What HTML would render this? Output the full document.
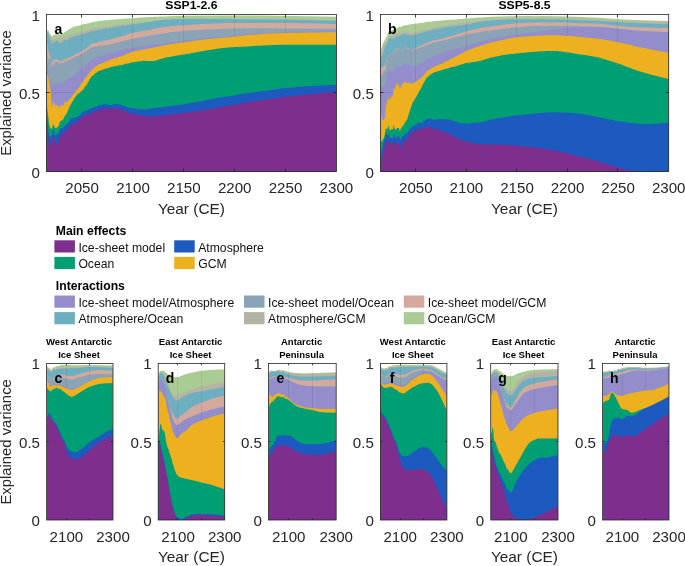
<!DOCTYPE html>
<html><head><meta charset="utf-8"><title>Explained variance</title>
<style>
html,body{margin:0;padding:0;background:#fff;}
body{width:685px;height:566px;overflow:hidden;}
svg{display:block;will-change:transform;}
text{font-family:"Liberation Sans",Arial,Helvetica,sans-serif;fill:#262626;}
.tk{font-size:15.1px;}
.al{font-size:15.4px;}
.yl{font-size:14.85px;}
.tt{font-size:11.5px;font-weight:bold;fill:#000;}
.st{font-size:9.5px;font-weight:bold;fill:#000;}
.pl{font-size:14px;font-weight:bold;fill:#000;}
.lg{font-size:12.2px;fill:#111;}
.lh{font-size:12.2px;font-weight:bold;fill:#000;}
</style></head><body>
<svg width="685" height="566" viewBox="0 0 685 566">
<rect width="685" height="566" fill="#fff"/>
<rect x="46.5" y="14.5" width="289.90" height="157.00" fill="#fff"/>
<polygon fill="#ABCB94" points="46.9,171.5 46.9,30.2 47.9,30.0 48.9,30.9 49.9,34.1 50.9,34.7 51.9,36.4 52.9,36.1 53.9,34.3 54.9,34.7 55.9,34.1 57.9,33.7 58.9,34.3 59.9,33.9 60.9,34.3 61.9,33.7 62.9,33.4 64.9,32.0 65.9,31.6 66.9,30.9 67.9,29.9 69.9,28.7 70.9,28.4 71.9,27.8 72.9,27.3 73.9,26.4 74.9,26.6 75.9,26.4 76.9,25.7 77.9,26.0 78.9,25.8 79.9,25.3 80.9,25.2 81.9,24.3 83.9,24.3 85.9,23.8 86.9,23.4 88.9,23.2 90.9,22.4 91.9,22.2 92.9,22.2 93.9,22.1 94.9,21.7 95.9,21.8 98.9,21.0 100.9,21.0 101.9,20.6 103.9,20.4 104.9,20.4 105.9,20.1 107.9,20.3 108.9,20.2 109.9,19.7 111.9,19.8 117.9,19.3 118.9,19.0 120.0,19.3 121.0,18.9 123.0,18.7 124.0,18.8 127.0,18.5 129.0,18.5 134.0,18.0 137.0,17.9 138.0,17.7 141.0,17.6 142.0,17.4 146.0,17.2 147.0,17.1 149.0,17.1 150.0,17.0 152.0,17.0 155.0,16.7 158.0,16.7 160.0,16.6 164.0,16.5 165.0,16.4 174.0,16.1 175.0,16.0 183.0,15.9 186.0,15.7 187.0,15.8 230.0,15.4 232.0,15.5 236.0,15.4 257.0,15.5 292.1,15.9 336.1,16.8 336.1,171.5"/>
<polygon fill="#B3B3A6" points="46.9,171.5 46.9,31.6 48.9,33.0 49.9,36.7 50.9,36.2 51.9,40.6 52.9,39.3 54.9,39.2 55.9,38.9 56.9,38.5 57.9,37.5 58.9,38.4 59.9,37.2 60.9,38.4 61.9,36.9 62.9,37.7 63.9,36.3 64.9,35.5 65.9,37.4 66.9,36.7 67.9,35.0 68.9,35.8 69.9,34.8 70.9,35.4 71.9,34.9 72.9,34.2 73.9,33.0 74.9,33.8 76.9,32.8 77.9,33.0 78.9,32.9 79.9,32.0 80.9,32.2 81.9,31.4 82.9,30.8 83.9,31.1 84.9,30.8 85.9,30.7 86.9,30.1 88.9,29.9 89.9,29.1 90.9,29.0 91.9,28.5 92.9,28.8 94.9,28.0 95.9,28.3 96.9,27.8 97.9,27.7 98.9,27.2 99.9,27.5 100.9,27.4 102.9,26.8 104.9,26.7 105.9,26.1 106.9,26.6 108.9,26.6 109.9,25.8 110.9,25.9 111.9,25.7 112.9,25.9 113.9,25.3 114.9,25.3 115.9,25.1 116.9,25.2 118.9,24.5 120.0,24.9 121.0,24.4 123.0,24.0 124.0,24.1 126.0,23.9 127.0,23.5 129.0,23.6 130.0,23.2 131.0,23.4 133.0,22.9 137.0,22.9 138.0,22.6 141.0,22.5 142.0,22.2 146.0,21.9 147.0,21.7 149.0,21.8 150.0,21.4 154.0,20.9 155.0,20.5 158.0,20.3 160.0,19.9 161.0,19.8 162.0,19.5 163.0,19.7 165.0,19.4 167.0,19.3 168.0,19.4 170.0,19.1 174.0,19.0 175.0,18.8 177.0,18.7 178.0,18.9 181.0,18.7 184.0,18.8 186.0,18.6 187.0,18.7 188.0,18.7 191.0,18.8 192.0,18.6 194.0,18.8 198.0,18.7 199.0,18.8 206.0,18.6 207.0,18.7 220.0,18.7 223.0,18.9 225.0,18.8 227.0,18.9 230.0,18.8 232.0,19.1 236.0,19.0 240.0,19.2 246.0,19.1 248.0,19.3 250.0,19.2 266.1,19.4 269.1,19.2 272.1,19.4 277.1,19.3 285.1,19.5 292.1,19.4 294.1,19.6 296.1,19.5 297.1,19.7 298.1,19.6 299.1,19.7 304.1,19.7 305.1,19.8 307.1,19.7 309.1,19.8 317.1,19.9 318.1,20.1 320.1,20.0 322.1,20.2 323.1,20.1 331.1,20.4 336.1,20.4 336.1,171.5"/>
<polygon fill="#6DAEC0" points="46.9,171.5 46.9,33.8 47.9,32.3 49.9,39.6 50.9,40.3 51.9,43.4 52.9,43.3 53.9,41.5 54.9,42.3 56.9,40.3 57.9,41.1 58.9,42.7 59.9,42.0 60.9,43.3 61.9,41.9 62.9,42.1 63.9,40.3 64.9,39.5 65.9,41.1 66.9,40.6 67.9,38.9 68.9,39.4 69.9,37.9 70.9,38.2 71.9,37.4 72.9,37.1 73.9,36.3 74.9,36.8 76.9,35.4 77.9,35.5 78.9,35.8 79.9,34.9 80.9,35.0 81.9,34.3 82.9,33.8 83.9,33.8 84.9,33.5 85.9,33.5 86.9,32.7 87.9,32.4 88.9,32.4 89.9,31.6 90.9,31.3 91.9,31.1 92.9,31.3 94.9,30.6 95.9,30.7 96.9,30.5 97.9,30.2 98.9,29.6 99.9,29.8 102.9,28.9 104.9,28.6 105.9,28.0 106.9,28.6 108.9,28.4 109.9,27.7 110.9,27.7 111.9,27.5 112.9,27.6 113.9,27.1 114.9,27.2 115.9,26.7 116.9,26.8 118.9,26.2 120.0,26.4 121.0,26.0 122.0,25.9 123.0,25.6 124.0,25.8 126.0,25.6 127.0,24.9 128.0,25.2 129.0,25.1 130.0,24.7 131.0,24.7 133.0,24.4 134.0,24.1 136.0,24.1 137.0,24.0 138.0,23.6 141.0,23.4 143.0,22.9 144.0,22.8 148.0,22.2 149.0,22.3 150.0,21.9 152.0,21.7 155.0,20.9 158.0,20.7 160.0,20.3 161.0,20.3 162.0,20.0 163.0,20.1 166.0,19.8 169.0,19.7 171.0,19.5 172.0,19.6 174.0,19.5 177.0,19.2 178.0,19.3 182.0,19.1 184.0,19.3 185.0,19.1 186.0,19.0 190.0,19.1 192.0,19.0 194.0,19.1 198.0,19.0 199.0,19.1 201.0,19.0 205.0,19.0 206.0,18.9 208.0,19.1 213.0,19.0 219.0,19.1 220.0,19.0 222.0,19.2 225.0,19.1 229.0,19.2 230.0,19.1 232.0,19.4 236.0,19.3 239.0,19.3 240.0,19.5 246.0,19.4 248.0,19.6 251.0,19.5 254.0,19.6 256.0,19.5 260.0,19.6 266.1,19.7 267.1,19.6 268.1,19.7 269.1,19.6 273.1,19.7 277.1,19.6 278.1,19.7 282.1,19.6 290.1,19.8 292.1,19.7 294.1,19.9 296.1,19.8 297.1,20.0 298.1,19.8 305.1,20.1 307.1,20.0 309.1,20.2 327.1,20.5 332.1,20.8 336.1,20.8 336.1,171.5"/>
<polygon fill="#D3A99D" points="46.9,171.5 46.9,40.5 47.9,48.2 49.9,56.3 50.9,57.1 51.9,62.8 52.9,61.7 53.9,58.8 54.9,59.8 55.9,58.8 56.9,59.3 57.9,59.6 58.9,61.6 59.9,60.5 60.9,60.8 61.9,60.2 62.9,61.4 63.9,59.6 64.9,58.8 65.9,59.4 66.9,58.9 67.9,57.1 68.9,58.1 69.9,56.9 70.9,57.3 71.9,56.3 74.9,54.5 76.9,53.2 77.9,53.5 78.9,52.9 79.9,51.6 80.9,51.9 81.9,50.8 83.9,49.8 84.9,49.0 86.9,47.8 87.9,46.9 88.9,46.2 89.9,45.0 90.9,44.5 91.9,43.8 92.9,43.4 93.9,43.4 94.9,43.1 96.9,42.7 97.9,42.2 98.9,41.6 99.9,41.8 100.9,41.7 101.9,41.1 102.9,41.2 103.9,40.8 104.9,40.7 105.9,40.0 106.9,40.5 107.9,40.1 108.9,40.0 109.9,39.3 110.9,39.2 111.9,38.7 112.9,38.8 113.9,38.1 114.9,38.2 115.9,37.7 116.9,37.6 118.9,36.7 120.0,36.7 122.0,36.0 124.0,35.7 125.0,35.2 126.0,35.0 127.0,34.3 129.0,34.0 130.0,33.3 131.0,33.4 133.0,32.8 134.0,32.4 135.0,32.4 136.0,32.1 137.0,32.2 138.0,31.7 139.0,31.7 143.0,30.8 144.0,30.8 148.0,29.9 149.0,29.9 151.0,29.4 152.0,29.3 155.0,28.6 157.0,28.3 159.0,27.8 161.0,27.6 162.0,27.3 163.0,27.3 165.0,26.9 169.0,26.5 170.0,26.2 173.0,26.0 174.0,26.1 175.0,25.8 178.0,25.7 181.0,25.3 184.0,25.2 186.0,24.9 191.0,24.8 192.0,24.5 196.0,24.4 198.0,24.2 199.0,24.3 201.0,24.0 206.0,23.7 210.0,23.7 212.0,23.6 213.0,23.5 214.0,23.5 219.0,23.4 220.0,23.2 222.0,23.3 224.0,23.2 225.0,23.1 227.0,23.1 230.0,22.9 232.0,23.1 236.0,22.9 239.0,22.9 240.0,23.1 246.0,23.0 248.0,23.1 255.0,22.9 260.0,23.1 261.0,23.0 268.1,23.1 269.1,23.0 273.1,23.1 277.1,22.9 278.1,23.1 282.1,23.0 290.1,23.1 292.1,22.9 294.1,23.1 296.1,23.0 297.1,23.2 298.1,23.0 299.1,23.2 304.1,23.2 305.1,23.3 307.1,23.2 318.1,23.6 327.1,23.8 332.1,24.1 336.1,24.1 336.1,171.5"/>
<polygon fill="#8BA3B6" points="46.9,171.5 46.9,48.3 47.9,60.2 48.9,58.8 49.9,58.2 50.9,57.1 51.9,66.4 52.9,66.5 53.9,62.8 54.9,63.9 55.9,61.4 56.9,61.8 57.9,61.7 58.9,63.8 59.9,62.6 60.9,63.2 61.9,62.6 62.9,63.6 64.9,61.4 65.9,61.2 66.9,61.4 67.9,60.0 68.9,60.1 69.9,59.4 70.9,59.6 71.9,58.6 72.9,57.9 74.9,56.9 75.9,56.2 76.9,55.8 77.9,55.9 78.9,55.5 79.9,54.0 80.9,54.4 81.9,53.7 83.9,53.1 84.9,51.7 86.9,51.0 87.9,49.9 89.9,48.3 90.9,47.9 91.9,47.2 92.9,47.2 93.9,47.0 95.9,46.3 96.9,46.5 98.9,45.6 99.9,45.9 100.9,46.0 101.9,45.6 102.9,45.7 103.9,45.5 104.9,45.5 105.9,44.8 106.9,45.6 107.9,45.0 108.9,45.0 109.9,44.3 110.9,44.2 111.9,43.8 112.9,43.9 113.9,43.2 114.9,43.3 117.9,42.3 118.9,41.9 120.0,41.8 122.0,41.3 124.0,41.0 125.0,40.7 126.0,40.5 127.0,40.0 129.0,39.9 130.0,39.2 131.0,39.3 132.0,38.9 133.0,38.8 134.0,38.4 135.0,38.4 136.0,38.1 137.0,38.1 138.0,37.8 139.0,37.7 141.0,37.2 142.0,36.9 146.0,36.4 148.0,35.8 149.0,35.9 151.0,35.3 152.0,35.3 156.0,34.4 157.0,34.4 158.0,34.0 160.0,33.9 162.0,33.5 163.0,33.5 165.0,33.0 166.0,33.0 171.0,32.3 172.0,32.1 174.0,32.0 175.0,31.7 179.0,31.4 182.0,30.9 184.0,31.0 185.0,30.7 192.0,30.3 196.0,30.1 198.0,29.9 199.0,30.0 201.0,29.8 204.0,29.7 206.0,29.5 212.0,29.3 220.0,28.9 224.0,28.8 225.0,28.7 226.0,28.8 230.0,28.5 232.0,28.6 239.0,28.3 240.0,28.4 243.0,28.3 248.0,28.4 249.0,28.3 255.0,28.2 260.0,28.4 267.1,28.3 273.1,28.5 277.1,28.3 278.1,28.5 284.1,28.4 287.1,28.5 292.1,28.4 294.1,28.5 296.1,28.4 297.1,28.6 298.1,28.4 299.1,28.5 304.1,28.5 305.1,28.6 307.1,28.5 309.1,28.6 310.1,28.5 314.1,28.7 315.1,28.6 320.1,28.7 327.1,28.6 332.1,28.8 336.1,28.7 336.1,171.5"/>
<polygon fill="#938DCB" points="46.9,171.5 46.9,65.1 47.9,69.3 48.9,75.0 49.9,81.7 50.9,81.0 51.9,85.1 53.9,82.6 54.9,83.7 55.9,82.8 56.9,82.3 57.9,82.3 58.9,84.0 59.9,82.8 60.9,83.1 61.9,82.5 62.9,84.2 64.9,80.9 66.9,81.2 67.9,79.4 68.9,78.8 69.9,77.7 70.9,77.7 71.9,76.8 72.9,76.1 73.9,75.0 74.9,74.3 75.9,73.2 76.9,72.3 77.9,72.2 78.9,71.3 79.9,69.3 81.9,67.8 82.9,67.4 83.9,66.7 84.9,65.3 85.9,64.4 86.9,64.2 89.9,60.7 90.9,60.2 91.9,59.2 93.9,58.8 94.9,57.6 95.9,57.5 98.9,56.0 100.9,55.9 101.9,55.3 102.9,55.2 103.9,54.8 104.9,54.7 105.9,53.7 106.9,54.4 107.9,53.7 108.9,53.6 109.9,53.0 110.9,53.0 111.9,52.4 112.9,52.3 113.9,51.9 115.9,51.7 118.9,50.6 120.0,50.6 122.0,50.1 124.0,49.9 125.0,49.4 126.0,49.3 127.0,48.7 129.0,48.7 130.0,48.1 131.0,48.1 132.0,47.7 133.0,47.7 134.0,47.4 135.0,47.4 136.0,47.1 137.0,47.3 138.0,47.0 139.0,47.1 140.0,46.8 143.0,46.2 146.0,45.9 147.0,45.6 149.0,45.5 151.0,45.0 152.0,45.1 156.0,44.3 157.0,44.3 158.0,44.0 163.0,43.5 165.0,43.0 166.0,43.0 167.0,42.8 171.0,42.4 172.0,42.2 174.0,42.1 175.0,41.8 177.0,41.6 178.0,41.7 180.0,41.2 183.0,41.0 184.0,41.1 185.0,40.7 187.0,40.5 188.0,40.3 190.0,40.2 198.0,39.1 199.0,39.1 201.0,38.8 204.0,38.5 206.0,38.2 217.0,37.3 224.0,36.9 225.0,36.7 226.0,36.8 230.0,36.3 232.0,36.2 237.0,35.5 239.0,35.1 243.0,34.6 248.0,34.4 249.0,34.2 256.0,33.6 264.1,33.2 269.1,32.8 271.1,32.9 284.1,32.3 287.1,32.3 292.1,32.0 293.1,32.1 296.1,32.0 297.1,32.1 298.1,31.8 299.1,31.9 303.1,31.9 304.1,31.7 305.1,31.9 306.1,31.7 308.1,31.6 309.1,31.7 310.1,31.6 312.1,31.7 315.1,31.5 331.1,31.3 332.1,31.4 333.1,31.3 336.1,31.3 336.1,171.5"/>
<polygon fill="#EDB120" points="46.9,171.5 46.9,75.3 47.9,74.9 49.9,86.0 50.9,94.0 51.9,108.5 52.9,103.4 53.9,101.5 54.9,105.7 55.9,104.9 56.9,105.3 57.9,106.1 58.9,108.8 59.9,104.8 60.9,106.2 61.9,105.0 62.9,106.0 63.9,103.4 64.9,102.1 65.9,101.9 66.9,102.3 69.9,98.5 70.9,98.0 71.9,96.4 72.9,95.2 73.9,93.7 74.9,92.7 76.9,89.9 78.9,87.7 79.9,85.7 80.9,84.1 81.9,82.7 82.9,81.7 83.9,80.4 84.9,78.4 86.9,76.5 87.9,74.6 88.9,73.4 89.9,71.7 90.9,71.1 91.9,69.4 92.9,69.1 93.9,68.3 94.9,66.8 95.9,66.5 98.9,64.3 99.9,64.0 100.9,64.0 102.9,62.8 104.9,62.2 105.9,61.0 106.9,61.6 107.9,60.7 108.9,60.6 109.9,59.8 111.9,59.2 112.9,59.1 114.9,58.3 116.9,58.0 117.9,57.3 124.0,55.5 125.0,54.6 126.0,54.6 127.0,53.8 128.0,53.7 129.0,53.4 130.0,52.6 133.0,51.7 134.0,51.3 135.0,51.3 136.0,51.0 137.0,51.0 138.0,50.6 139.0,50.6 140.0,50.2 141.0,50.2 143.0,49.5 144.0,49.5 148.0,48.5 149.0,48.5 151.0,47.9 152.0,47.9 155.0,47.3 156.0,46.9 157.0,46.9 158.0,46.5 160.0,46.3 162.0,45.8 163.0,45.7 167.0,44.8 168.0,44.8 169.0,44.6 171.0,44.3 172.0,44.0 174.0,43.8 176.0,43.3 179.0,43.1 180.0,42.7 183.0,42.4 184.0,42.5 185.0,42.0 187.0,41.9 188.0,41.7 191.0,41.4 192.0,41.1 196.0,40.6 198.0,40.2 199.0,40.2 204.0,39.5 205.0,39.5 206.0,39.2 214.0,38.5 215.0,38.3 216.0,38.4 217.0,38.2 223.0,37.7 225.0,37.5 226.0,37.5 230.0,37.0 232.0,36.9 233.0,36.7 240.0,35.9 241.0,35.7 244.0,35.5 247.0,35.2 248.0,35.2 256.0,34.4 269.1,33.6 284.1,33.0 287.1,33.1 292.1,32.8 293.1,32.9 296.1,32.7 297.1,32.8 298.1,32.7 300.1,32.8 301.1,32.7 304.1,32.6 305.1,32.7 308.1,32.5 309.1,32.6 310.1,32.5 314.1,32.6 315.1,32.4 318.1,32.5 330.1,32.3 332.1,32.4 333.1,32.3 336.1,32.3 336.1,171.5"/>
<polygon fill="#009E73" points="46.9,171.5 46.9,106.1 47.9,113.6 48.9,123.1 49.9,127.4 51.9,129.3 52.9,124.5 53.9,125.3 54.9,128.6 55.9,127.3 56.9,128.2 57.9,126.4 58.9,126.1 59.9,120.8 60.9,121.8 61.9,119.4 62.9,120.4 63.9,117.5 66.9,113.3 67.9,110.4 68.9,108.8 69.9,105.7 70.9,104.7 71.9,102.4 74.9,97.5 75.9,96.4 76.9,94.8 77.9,93.7 78.9,93.4 79.9,92.6 81.9,90.8 83.9,88.7 84.9,86.6 85.9,86.1 86.9,84.8 87.9,82.2 88.9,81.0 89.9,78.9 90.9,77.8 91.9,76.1 92.9,75.7 93.9,74.7 94.9,73.4 95.9,73.0 96.9,72.5 97.9,71.3 98.9,71.1 99.9,70.5 100.9,70.5 103.9,69.3 104.9,69.1 105.9,68.2 106.9,68.5 107.9,68.1 108.9,67.9 109.9,67.2 113.9,66.5 114.9,66.2 116.9,66.1 118.9,65.3 120.0,65.3 122.0,64.9 124.0,64.6 125.0,63.8 126.0,64.0 127.0,63.4 129.0,63.4 130.0,62.7 132.0,62.4 134.0,61.9 135.0,62.0 136.0,61.7 137.0,61.8 138.0,61.4 141.0,61.2 143.0,60.8 146.0,61.0 148.0,60.9 151.0,60.9 153.0,61.0 154.0,60.9 157.0,60.3 158.0,59.8 161.0,59.0 162.0,58.6 163.0,58.4 164.0,57.9 167.0,57.2 168.0,57.2 169.0,56.9 171.0,56.7 177.0,55.5 178.0,55.5 182.0,54.7 184.0,54.6 185.0,54.2 187.0,54.0 188.0,53.7 191.0,53.3 192.0,53.0 194.0,52.7 195.0,52.4 199.0,51.8 204.0,50.9 205.0,50.8 206.0,50.5 209.0,50.1 211.0,49.7 212.0,49.7 217.0,48.8 225.0,47.7 226.0,47.8 230.0,47.3 232.0,47.3 235.0,46.9 248.0,46.4 256.0,45.8 259.0,45.7 263.0,45.4 280.1,44.8 284.1,44.7 286.1,44.8 292.1,44.7 294.1,44.8 296.1,44.7 297.1,44.8 298.1,44.7 303.1,44.8 304.1,44.7 305.1,44.8 308.1,44.7 309.1,44.8 310.1,44.7 314.1,44.8 315.1,44.7 316.1,44.8 325.1,44.7 336.1,44.8 336.1,171.5"/>
<polygon fill="#1C5AC0" points="46.9,171.5 46.9,113.7 48.9,136.1 49.9,136.6 50.9,136.1 51.9,137.9 52.9,129.3 53.9,131.7 54.9,136.2 55.9,134.5 56.9,134.4 57.9,133.3 58.9,132.8 59.9,128.0 60.9,128.3 61.9,127.4 62.9,128.9 63.9,126.1 64.9,125.4 65.9,125.2 66.9,124.4 67.9,122.5 68.9,122.5 69.9,119.5 70.9,119.6 71.9,118.3 73.9,118.3 74.9,117.6 76.9,117.3 77.9,116.5 78.9,116.0 80.9,114.1 81.9,112.8 82.9,112.1 83.9,111.7 84.9,110.7 85.9,111.0 86.9,110.8 87.9,109.6 88.9,109.2 89.9,108.4 90.9,108.3 91.9,107.7 92.9,108.2 93.9,107.6 94.9,106.8 96.9,106.4 97.9,105.5 98.9,105.5 99.9,105.0 100.9,105.2 102.9,104.2 104.9,104.2 105.9,103.9 106.9,104.6 107.9,104.7 108.9,105.1 110.9,104.9 111.9,104.9 114.9,104.0 117.9,104.1 118.9,104.2 121.0,104.7 124.0,106.2 125.0,106.1 126.0,106.8 127.0,106.9 128.0,107.5 129.0,107.7 130.0,107.4 131.0,107.9 133.0,108.3 134.0,108.3 135.0,108.8 136.0,108.7 137.0,109.1 138.0,109.0 141.0,109.4 143.0,109.3 144.0,109.5 145.0,109.4 146.0,109.5 151.0,108.5 155.0,108.1 158.0,107.6 161.0,107.5 162.0,107.2 163.0,107.2 166.0,106.8 167.0,106.6 171.0,106.2 172.0,106.0 173.0,105.9 177.0,105.2 178.0,105.3 182.0,104.5 184.0,104.4 186.0,103.8 187.0,103.8 189.0,103.4 191.0,103.1 193.0,102.6 194.0,102.5 195.0,102.2 196.0,102.1 198.0,101.7 199.0,101.7 201.0,101.2 205.0,100.5 206.0,100.2 214.0,98.8 215.0,98.5 224.0,97.1 225.0,96.8 226.0,96.8 230.0,96.1 232.0,95.9 244.0,93.6 256.0,91.9 262.0,91.2 277.1,89.1 284.1,88.2 288.1,87.9 292.1,87.4 295.1,87.3 296.1,87.1 297.1,87.1 305.1,86.5 308.1,86.2 312.1,86.1 315.1,85.8 318.1,85.8 326.1,85.3 336.1,85.0 336.1,171.5"/>
<polygon fill="#7E2F8E" points="46.9,171.5 46.9,121.8 47.9,131.0 48.9,143.0 49.9,144.8 50.9,146.0 51.9,144.7 52.9,135.3 53.9,137.3 55.9,143.6 56.9,143.7 57.9,142.5 58.9,140.8 59.9,135.6 61.9,134.0 62.9,134.5 63.9,132.2 64.9,131.8 65.9,130.2 66.9,130.0 67.9,128.8 68.9,128.0 69.9,125.3 70.9,125.4 71.9,124.2 72.9,123.6 73.9,123.6 74.9,123.4 75.9,122.2 76.9,122.5 77.9,121.0 78.9,120.4 82.9,116.2 83.9,116.0 84.9,115.6 86.9,115.0 87.9,114.6 88.9,113.9 89.9,113.4 90.9,113.1 91.9,112.4 92.9,112.2 93.9,111.7 94.9,110.9 96.9,110.6 97.9,109.4 98.9,109.7 99.9,109.1 100.9,109.4 102.9,108.8 103.9,108.3 104.9,108.6 105.9,107.7 106.9,108.4 107.9,108.5 108.9,108.9 109.9,108.8 111.9,108.9 113.9,108.4 115.9,108.3 118.9,108.5 121.0,109.1 122.0,109.5 123.0,110.2 124.0,110.8 125.0,111.0 126.0,111.8 127.0,112.0 129.0,113.0 130.0,112.9 131.0,113.4 134.0,114.0 135.0,114.5 136.0,114.5 137.0,115.0 138.0,115.0 141.0,115.8 145.0,116.2 146.0,116.4 147.0,116.4 154.0,116.7 156.0,116.4 159.0,116.1 162.0,115.6 168.0,114.9 169.0,114.6 171.0,114.5 172.0,114.3 174.0,114.2 182.0,113.0 183.0,113.1 186.0,112.5 187.0,112.5 188.0,112.3 191.0,111.9 193.0,111.6 196.0,111.3 198.0,110.9 210.0,109.1 215.0,108.1 218.0,107.7 220.0,107.2 223.0,106.8 225.0,106.3 226.0,106.3 229.0,105.7 230.0,105.4 232.0,105.2 241.0,103.5 252.0,101.6 262.0,100.3 264.1,99.9 266.1,99.7 277.1,97.9 278.1,97.9 280.1,97.5 288.1,96.6 292.1,96.0 293.1,96.0 296.1,95.7 303.1,95.1 307.1,94.6 309.1,94.5 311.1,94.2 312.1,94.2 315.1,93.8 318.1,93.6 320.1,93.3 336.1,91.7 336.1,171.5"/>
<clipPath id="cpa"><polygon points="46.5,14.5 46.9,75.3 47.9,74.9 49.9,86.0 50.9,94.0 51.9,108.5 52.9,103.4 53.9,101.5 54.9,105.7 55.9,104.9 56.9,105.3 57.9,106.1 58.9,108.8 59.9,104.8 60.9,106.2 61.9,105.0 62.9,106.0 63.9,103.4 64.9,102.1 65.9,101.9 66.9,102.3 69.9,98.5 70.9,98.0 71.9,96.4 72.9,95.2 73.9,93.7 74.9,92.7 76.9,89.9 78.9,87.7 79.9,85.7 80.9,84.1 81.9,82.7 82.9,81.7 83.9,80.4 84.9,78.4 86.9,76.5 87.9,74.6 88.9,73.4 89.9,71.7 90.9,71.1 91.9,69.4 92.9,69.1 93.9,68.3 94.9,66.8 95.9,66.5 98.9,64.3 99.9,64.0 100.9,64.0 102.9,62.8 104.9,62.2 105.9,61.0 106.9,61.6 107.9,60.7 108.9,60.6 109.9,59.8 111.9,59.2 112.9,59.1 114.9,58.3 116.9,58.0 117.9,57.3 124.0,55.5 125.0,54.6 126.0,54.6 127.0,53.8 128.0,53.7 129.0,53.4 130.0,52.6 133.0,51.7 134.0,51.3 135.0,51.3 136.0,51.0 137.0,51.0 138.0,50.6 139.0,50.6 140.0,50.2 141.0,50.2 143.0,49.5 144.0,49.5 148.0,48.5 149.0,48.5 151.0,47.9 152.0,47.9 155.0,47.3 156.0,46.9 157.0,46.9 158.0,46.5 160.0,46.3 162.0,45.8 163.0,45.7 167.0,44.8 168.0,44.8 169.0,44.6 171.0,44.3 172.0,44.0 174.0,43.8 176.0,43.3 179.0,43.1 180.0,42.7 183.0,42.4 184.0,42.5 185.0,42.0 187.0,41.9 188.0,41.7 191.0,41.4 192.0,41.1 196.0,40.6 198.0,40.2 199.0,40.2 204.0,39.5 205.0,39.5 206.0,39.2 214.0,38.5 215.0,38.3 216.0,38.4 217.0,38.2 223.0,37.7 225.0,37.5 226.0,37.5 230.0,37.0 232.0,36.9 233.0,36.7 240.0,35.9 241.0,35.7 244.0,35.5 247.0,35.2 248.0,35.2 256.0,34.4 269.1,33.6 284.1,33.0 287.1,33.1 292.1,32.8 293.1,32.9 296.1,32.7 297.1,32.8 298.1,32.7 300.1,32.8 301.1,32.7 304.1,32.6 305.1,32.7 308.1,32.5 309.1,32.6 310.1,32.5 314.1,32.6 315.1,32.4 318.1,32.5 330.1,32.3 332.1,32.4 333.1,32.3 336.1,32.3 336.4,14.5"/></clipPath>
<g clip-path="url(#cpa)" stroke="#000" stroke-opacity="0.065" stroke-width="1"><line x1="81.5" y1="14.5" x2="81.5" y2="171.5"/><line x1="132.5" y1="14.5" x2="132.5" y2="171.5"/><line x1="183.5" y1="14.5" x2="183.5" y2="171.5"/><line x1="234.5" y1="14.5" x2="234.5" y2="171.5"/><line x1="285.5" y1="14.5" x2="285.5" y2="171.5"/><line x1="46.5" y1="92.5" x2="336.4" y2="92.5"/></g>
<g stroke="#262626" stroke-width="1" stroke-opacity="0.9"><line x1="81.5" y1="171.5" x2="81.5" y2="168.5"/><line x1="81.5" y1="14.5" x2="81.5" y2="17.5"/><line x1="132.5" y1="171.5" x2="132.5" y2="168.5"/><line x1="132.5" y1="14.5" x2="132.5" y2="17.5"/><line x1="183.5" y1="171.5" x2="183.5" y2="168.5"/><line x1="183.5" y1="14.5" x2="183.5" y2="17.5"/><line x1="234.5" y1="171.5" x2="234.5" y2="168.5"/><line x1="234.5" y1="14.5" x2="234.5" y2="17.5"/><line x1="285.5" y1="171.5" x2="285.5" y2="168.5"/><line x1="285.5" y1="14.5" x2="285.5" y2="17.5"/><line x1="46.5" y1="92.5" x2="49.5" y2="92.5"/><line x1="336.4" y1="92.5" x2="333.4" y2="92.5"/></g>
<rect x="46.5" y="14.5" width="289.90" height="157.00" fill="none" stroke="#262626" stroke-width="0.8"/>
<text class="tk" x="82.1" y="193.0" text-anchor="middle">2050</text>
<text class="tk" x="133.0" y="193.0" text-anchor="middle">2100</text>
<text class="tk" x="183.8" y="193.0" text-anchor="middle">2150</text>
<text class="tk" x="234.7" y="193.0" text-anchor="middle">2200</text>
<text class="tk" x="285.5" y="193.0" text-anchor="middle">2250</text>
<text class="tk" x="336.4" y="193.0" text-anchor="middle">2300</text>
<text class="tk" x="39.9" y="177.5" text-anchor="end">0</text>
<text class="tk" x="39.9" y="99.0" text-anchor="end">0.5</text>
<text class="tk" x="39.9" y="20.5" text-anchor="end">1</text>
<rect x="380.4" y="14.5" width="288.30" height="157.00" fill="#fff"/>
<polygon fill="#ABCB94" points="380.8,171.5 380.8,50.2 382.8,43.7 383.8,41.7 384.8,40.1 385.8,37.9 386.8,36.4 387.8,33.2 388.8,30.7 389.8,31.9 390.8,30.6 391.8,30.6 394.8,29.8 395.8,29.4 396.8,27.7 397.8,28.5 398.8,26.5 399.8,27.1 400.8,27.2 401.8,26.3 402.8,25.8 403.8,25.8 404.8,25.3 405.8,25.6 406.8,25.0 407.8,25.1 408.8,24.5 410.8,24.4 411.8,24.0 412.8,23.8 413.8,24.0 414.8,23.6 416.8,23.8 418.7,23.2 420.7,22.9 421.7,22.6 422.7,22.9 424.7,22.3 427.7,21.8 429.7,21.8 431.7,21.5 432.7,21.2 433.7,21.2 434.7,20.8 435.7,21.0 437.7,20.7 439.7,20.7 440.7,20.5 442.7,20.4 444.7,20.1 445.7,20.2 446.7,19.9 449.7,19.7 451.7,19.7 454.7,19.4 455.7,19.5 458.7,19.0 461.7,18.9 464.7,18.6 465.7,18.4 467.7,18.4 469.7,18.2 478.7,17.6 479.7,17.7 480.7,17.5 491.6,16.8 509.6,16.2 528.6,16.1 536.6,16.2 541.6,16.1 567.5,16.5 576.5,16.8 598.5,17.7 617.5,19.0 634.4,19.9 653.4,20.6 668.4,20.9 668.4,171.5"/>
<polygon fill="#B3B3A6" points="380.8,171.5 380.8,52.5 381.8,51.8 382.8,47.6 384.8,42.1 385.8,41.2 386.8,43.4 387.8,38.7 388.8,36.5 389.8,37.6 390.8,34.8 391.8,36.1 392.8,35.8 393.8,35.0 394.8,35.1 395.8,34.4 396.8,33.1 397.8,33.7 398.8,32.2 399.8,33.6 400.8,33.4 401.8,32.2 402.8,31.6 403.8,32.2 404.8,31.3 405.8,31.9 406.8,32.1 407.8,32.9 408.8,32.4 410.8,33.4 411.8,33.2 412.8,32.6 413.8,32.7 414.8,31.7 415.8,32.0 416.8,31.9 420.7,30.3 421.7,30.2 422.7,30.5 423.7,30.0 426.7,29.3 431.7,28.4 432.7,27.7 433.7,27.9 434.7,27.0 435.7,27.4 438.7,26.6 439.7,26.7 440.7,26.3 441.7,26.4 442.7,26.2 443.7,25.7 444.7,25.4 446.7,25.3 448.7,24.8 451.7,24.6 453.7,24.2 454.7,23.7 455.7,24.1 456.7,23.7 457.7,23.7 458.7,23.4 461.7,23.4 462.7,23.1 463.7,23.0 465.7,22.5 467.7,22.6 469.7,22.1 470.7,22.2 471.7,22.0 473.7,21.8 475.7,21.4 476.7,21.6 478.7,21.2 479.7,21.3 480.7,21.0 482.7,20.8 483.7,20.5 484.7,20.6 485.7,20.5 486.7,20.2 489.6,20.2 491.6,19.8 493.6,19.7 494.6,19.8 496.6,19.5 499.6,19.5 500.6,19.2 504.6,19.2 509.6,18.9 517.6,18.6 518.6,18.7 523.6,18.6 524.6,18.7 527.6,18.6 528.6,18.5 529.6,18.6 532.6,18.5 534.6,18.6 541.6,18.3 543.6,18.4 544.6,18.5 545.6,18.4 550.6,18.4 551.6,18.5 553.6,18.5 556.6,18.6 558.6,18.5 566.5,18.7 567.5,18.6 578.5,19.1 581.5,19.2 582.5,19.3 586.5,19.4 593.5,19.8 594.5,19.7 597.5,19.9 598.5,19.8 603.5,20.2 606.5,20.2 609.5,20.5 615.5,20.8 628.5,21.2 630.5,21.4 641.4,21.5 644.4,21.7 647.4,21.6 648.4,21.8 649.4,21.7 653.4,21.8 654.4,21.7 657.4,21.9 661.4,21.8 662.4,21.9 663.4,21.8 668.4,21.9 668.4,171.5"/>
<polygon fill="#6DAEC0" points="380.8,171.5 380.8,57.3 381.8,56.9 382.8,54.0 383.8,51.6 384.8,47.4 385.8,44.6 386.8,44.0 387.8,40.8 388.8,38.2 389.8,39.1 390.8,37.6 391.8,38.5 392.8,39.6 393.8,37.9 394.8,38.6 396.8,35.5 397.8,37.6 398.8,34.9 399.8,35.8 400.8,34.9 401.8,34.8 402.8,34.0 403.8,34.7 404.8,33.2 405.8,34.2 406.8,34.4 407.8,35.3 408.8,34.7 409.8,35.2 410.8,36.0 411.8,35.3 413.8,35.1 414.8,34.5 415.8,34.7 416.8,34.0 417.7,33.7 418.7,33.7 419.7,32.9 420.7,32.9 421.7,32.4 422.7,32.8 424.7,31.8 425.7,31.8 426.7,31.0 427.7,31.2 429.7,30.8 431.7,30.3 432.7,29.7 433.7,29.8 434.7,28.9 435.7,29.5 437.7,28.9 438.7,28.2 439.7,28.7 440.7,28.4 442.7,28.1 444.7,27.4 447.7,27.1 448.7,26.7 449.7,26.6 450.7,26.7 452.7,26.2 453.7,26.1 454.7,25.7 455.7,26.0 456.7,25.7 459.7,25.2 461.7,25.4 462.7,25.0 464.7,24.8 465.7,24.4 467.7,24.4 469.7,23.9 470.7,23.9 471.7,23.5 474.7,23.0 475.7,22.6 476.7,22.6 477.7,22.4 478.7,22.0 479.7,22.1 480.7,21.8 481.7,21.6 482.7,21.7 483.7,21.4 485.7,21.2 486.7,20.9 489.6,20.7 492.6,20.4 497.6,20.0 499.6,20.1 500.6,19.8 504.6,19.9 506.6,19.6 509.6,19.5 515.6,19.4 516.6,19.5 517.6,19.4 518.6,19.5 524.6,19.5 528.6,19.4 531.6,19.5 532.6,19.4 535.6,19.5 540.6,19.5 541.6,19.3 543.6,19.3 544.6,19.5 545.6,19.4 546.6,19.5 550.6,19.4 556.6,19.7 558.6,19.6 566.5,19.9 567.5,19.8 580.5,20.4 586.5,20.4 593.5,20.8 595.5,20.7 603.5,21.3 606.5,21.4 615.5,22.1 625.5,22.7 627.5,22.7 630.5,23.0 640.4,23.2 644.4,23.5 647.4,23.5 648.4,23.6 652.4,23.7 653.4,23.8 655.4,23.8 657.4,23.9 661.4,23.9 662.4,24.1 666.4,24.1 668.4,24.2 668.4,171.5"/>
<polygon fill="#D3A99D" points="380.8,171.5 380.8,66.2 381.8,67.3 382.8,67.1 383.8,66.4 384.8,66.0 385.8,62.3 386.8,57.7 387.8,55.9 388.8,55.1 389.8,55.7 390.8,53.9 391.8,52.8 392.8,53.8 393.8,50.4 394.8,52.3 395.8,49.4 396.8,48.3 397.8,50.0 398.8,49.0 399.8,51.1 400.8,50.1 401.8,50.7 402.8,49.5 403.8,48.8 404.8,46.3 406.8,47.3 407.8,48.2 408.8,48.0 409.8,48.6 410.8,49.6 411.8,49.3 412.8,48.8 413.8,49.1 414.8,48.3 415.8,48.4 417.7,47.1 418.7,46.8 420.7,45.7 421.7,44.7 422.7,45.1 423.7,44.5 424.7,43.5 425.7,43.4 426.7,42.4 427.7,42.6 428.7,42.6 429.7,41.9 430.7,41.4 431.7,41.2 432.7,40.5 433.7,40.4 434.7,39.7 435.7,40.2 436.7,39.9 437.7,39.8 438.7,39.0 439.7,39.5 440.7,38.9 442.7,38.6 443.7,38.0 444.7,37.7 446.7,37.2 447.7,37.1 449.7,36.3 450.7,36.2 452.7,35.5 453.7,35.5 454.7,34.9 455.7,34.9 456.7,34.3 459.7,33.3 460.7,33.3 461.7,33.1 462.7,32.5 464.7,32.1 465.7,31.4 466.7,31.5 467.7,31.3 469.7,30.5 470.7,30.6 475.7,29.2 477.7,28.8 478.7,28.5 482.7,27.8 483.7,27.5 485.7,27.3 486.7,27.0 488.6,26.9 489.6,26.6 491.6,26.4 492.6,26.0 494.6,25.9 497.6,25.4 499.6,25.3 500.6,24.9 501.6,24.9 502.6,24.7 503.6,24.7 505.6,24.4 506.6,24.1 507.6,24.1 509.6,23.9 510.6,23.9 511.6,23.7 515.6,23.3 516.6,23.3 520.6,23.0 524.6,22.9 528.6,22.6 531.6,22.6 532.6,22.4 535.6,22.5 543.6,22.2 544.6,22.4 545.6,22.3 547.6,22.4 550.6,22.2 556.6,22.5 558.6,22.4 566.5,22.6 567.5,22.5 573.5,22.9 580.5,23.2 581.5,23.2 582.5,23.3 585.5,23.3 591.5,23.5 595.5,23.6 597.5,23.8 598.5,23.7 607.5,24.6 614.5,25.5 625.5,26.5 629.5,26.7 630.5,26.9 635.4,27.0 637.4,27.2 642.4,27.4 644.4,27.5 647.4,27.5 648.4,27.7 652.4,27.7 653.4,27.8 655.4,27.8 657.4,28.0 661.4,27.9 662.4,28.0 668.4,28.1 668.4,171.5"/>
<polygon fill="#8BA3B6" points="380.8,171.5 380.8,74.2 381.8,75.8 383.8,71.0 384.8,70.9 385.8,70.5 386.8,57.7 388.8,55.5 389.8,56.9 390.8,54.6 391.8,52.9 392.8,53.9 393.8,51.3 394.8,53.1 395.8,50.6 396.8,49.5 397.8,50.0 398.8,49.9 399.8,51.5 400.8,50.2 401.8,51.3 402.8,49.7 403.8,49.7 404.8,47.1 405.8,47.1 406.8,48.2 407.8,49.0 408.8,48.7 409.8,48.8 410.8,50.2 411.8,49.8 412.8,49.3 413.8,49.7 414.8,49.1 415.8,49.5 417.7,48.6 420.7,47.6 421.7,46.6 422.7,47.0 423.7,46.9 424.7,45.6 425.7,45.7 426.7,44.4 427.7,45.0 429.7,44.2 430.7,43.6 431.7,43.5 432.7,42.8 433.7,42.8 434.7,42.1 435.7,42.5 436.7,42.1 437.7,42.0 438.7,41.3 439.7,41.8 440.7,41.1 441.7,41.0 444.7,39.9 445.7,39.8 446.7,39.5 447.7,39.5 448.7,38.8 449.7,38.8 450.7,38.6 451.7,38.1 453.7,37.9 454.7,37.5 455.7,37.6 456.7,36.9 459.7,36.0 460.7,36.0 463.7,35.2 464.7,35.1 465.7,34.3 466.7,34.5 469.7,33.8 470.7,33.8 472.7,33.2 473.7,33.0 474.7,33.0 476.7,32.4 477.7,32.4 478.7,32.1 482.7,31.6 486.7,30.9 488.6,30.9 492.6,30.1 494.6,29.9 497.6,29.4 499.6,29.3 500.6,28.9 501.6,29.0 502.6,28.7 504.6,28.7 506.6,28.3 507.6,28.3 509.6,27.9 511.6,27.8 515.6,27.3 518.6,27.2 520.6,26.9 522.6,26.9 523.6,26.7 524.6,26.8 527.6,26.4 530.6,26.3 532.6,26.0 533.6,26.1 543.6,25.8 544.6,26.0 545.6,25.9 549.6,25.8 556.6,26.0 558.6,25.8 564.5,25.9 567.5,25.8 574.5,26.1 581.5,26.2 582.5,26.4 585.5,26.3 592.5,26.5 595.5,26.5 597.5,26.7 598.5,26.6 607.5,27.4 614.5,28.3 622.5,29.1 625.5,29.6 627.5,29.7 630.5,30.1 633.4,30.3 634.4,30.4 635.4,30.4 638.4,30.8 658.4,31.8 660.4,31.8 662.4,31.9 663.4,31.9 668.4,32.1 668.4,171.5"/>
<polygon fill="#938DCB" points="380.8,171.5 380.8,83.3 381.8,86.1 382.8,86.3 383.8,86.0 384.8,85.3 385.8,84.2 386.8,73.5 387.8,71.5 388.8,70.8 389.8,72.9 390.8,70.9 391.8,71.7 392.8,72.1 393.8,69.0 394.8,69.4 395.8,66.9 396.8,64.9 397.8,66.2 398.8,65.6 399.8,67.1 400.8,66.2 401.8,66.2 402.8,65.6 403.8,64.9 404.8,63.2 405.8,63.0 406.8,64.1 407.8,64.8 409.8,64.5 410.8,66.3 412.8,65.4 413.8,65.8 414.8,65.4 415.8,65.8 417.7,64.6 418.7,64.1 419.7,63.4 420.7,63.3 421.7,62.4 423.7,61.5 424.7,60.3 425.7,60.3 426.7,58.7 427.7,59.0 428.7,58.5 429.7,58.4 430.7,57.3 431.7,57.1 432.7,56.3 434.7,55.5 435.7,55.5 436.7,54.8 437.7,54.7 438.7,54.1 439.7,54.2 440.7,53.4 441.7,53.5 444.7,52.0 445.7,51.9 446.7,51.5 447.7,51.3 448.7,50.7 449.7,50.3 452.7,49.4 453.7,49.3 454.7,48.9 455.7,48.9 457.7,47.9 459.7,47.4 460.7,47.4 462.7,46.9 464.7,46.3 465.7,45.8 467.7,45.6 469.7,44.9 470.7,44.8 472.7,43.8 474.7,43.4 475.7,43.0 477.7,42.5 479.7,41.8 480.7,41.7 481.7,41.3 487.7,39.8 489.6,39.5 495.6,38.0 499.6,37.4 500.6,37.0 504.6,36.6 506.6,36.1 509.6,35.5 512.6,35.2 514.6,34.7 518.6,34.2 521.6,33.6 522.6,33.7 523.6,33.4 524.6,33.4 525.6,33.1 527.6,32.7 530.6,32.5 532.6,32.0 534.6,32.0 542.6,30.8 544.6,30.7 545.6,30.4 548.6,30.0 556.6,29.2 561.5,28.5 562.5,28.5 567.5,28.0 569.5,28.0 570.5,27.8 576.5,27.5 588.5,27.3 593.5,27.4 594.5,27.3 597.5,27.4 598.5,27.3 607.5,27.8 617.5,28.8 622.5,29.2 625.5,29.6 629.5,29.9 630.5,30.1 635.4,30.4 638.4,30.8 645.4,31.1 648.4,31.4 658.4,31.8 660.4,31.8 662.4,31.9 663.4,31.9 668.4,32.1 668.4,171.5"/>
<polygon fill="#EDB120" points="380.8,171.5 380.8,112.1 381.8,118.7 382.8,119.7 383.8,120.4 384.8,118.1 385.8,107.0 386.8,102.3 387.8,99.3 388.8,97.2 389.8,101.0 390.8,96.4 391.8,97.9 392.8,95.4 393.8,87.6 394.8,89.7 396.8,82.4 397.8,85.4 398.8,84.4 399.8,89.5 400.8,86.9 401.8,85.4 402.8,83.6 403.8,82.9 404.8,81.9 405.8,81.6 406.8,83.0 408.8,83.1 409.8,82.6 410.8,84.0 411.8,83.8 412.8,83.2 413.8,83.3 414.8,82.0 415.8,81.9 417.7,80.5 418.7,79.4 419.7,78.7 420.7,78.3 421.7,77.1 422.7,76.4 424.7,73.9 425.7,73.2 426.7,71.2 427.7,71.1 428.7,70.2 429.7,70.0 430.7,68.5 431.7,68.4 432.7,67.6 434.7,66.4 435.7,66.4 436.7,65.8 437.7,65.5 438.7,64.8 439.7,64.6 440.7,64.1 441.7,63.9 444.7,62.0 445.7,61.9 446.7,61.1 447.7,60.9 449.7,59.4 450.7,59.2 452.7,57.9 453.7,57.8 454.7,57.0 455.7,56.8 457.7,55.4 459.7,54.5 460.7,53.8 462.7,52.9 465.7,51.1 467.7,50.6 468.7,50.0 469.7,49.7 470.7,49.5 472.7,48.4 474.7,47.8 476.7,47.0 477.7,46.9 478.7,46.3 482.7,45.2 484.7,44.4 485.7,44.2 487.7,43.5 489.6,43.1 495.6,41.4 499.6,40.6 500.6,40.2 504.6,39.5 508.6,38.4 516.6,37.3 518.6,37.2 521.6,36.8 522.6,36.9 523.6,36.7 524.6,36.7 525.6,36.5 531.6,36.2 532.6,36.0 534.6,36.1 543.6,35.5 544.6,35.6 546.6,35.3 549.6,35.2 552.6,35.2 556.6,35.3 557.6,35.3 561.5,35.5 563.5,35.7 570.5,36.1 580.5,37.0 581.5,37.0 582.5,37.2 585.5,37.4 592.5,38.2 594.5,38.3 597.5,38.8 598.5,38.8 609.5,40.6 621.5,42.9 632.5,45.6 635.4,46.2 638.4,47.0 645.4,48.3 656.4,50.6 660.4,51.2 668.4,52.8 668.4,171.5"/>
<polygon fill="#009E73" points="380.8,171.5 380.8,142.2 381.8,140.9 382.8,140.1 383.8,138.0 384.8,134.7 385.8,128.4 386.8,129.2 387.8,128.0 388.8,125.2 389.8,130.8 390.8,129.8 391.8,129.1 392.8,129.5 393.8,124.6 394.8,129.9 395.8,129.0 396.8,128.6 397.8,128.0 398.8,128.0 399.8,131.4 400.8,128.8 402.8,125.7 403.8,125.0 404.8,122.9 405.8,121.1 406.8,120.2 409.8,110.7 410.8,108.2 412.8,102.3 413.8,101.1 414.8,99.1 415.8,97.8 419.7,90.4 420.7,89.0 424.7,81.0 425.7,79.7 426.7,77.6 427.7,76.9 428.7,75.9 429.7,75.4 430.7,74.3 431.7,74.2 432.7,73.2 433.7,72.5 434.7,72.2 435.7,72.0 436.7,71.6 437.7,71.5 438.7,71.1 439.7,70.9 440.7,70.4 441.7,70.3 442.7,69.7 443.7,69.5 444.7,68.9 445.7,69.1 446.7,68.5 447.7,68.4 449.7,67.7 450.7,67.6 451.7,67.1 452.7,66.9 453.7,66.9 454.7,66.6 455.7,66.5 456.7,65.9 458.7,65.2 459.7,65.0 460.7,64.6 462.7,64.2 465.7,63.1 467.7,62.9 468.7,62.7 470.7,62.6 472.7,62.0 474.7,61.9 476.7,61.6 477.7,61.6 478.7,61.1 479.7,61.0 482.7,60.3 483.7,59.8 485.7,59.3 487.7,58.6 494.6,56.8 499.6,55.9 500.6,55.6 507.6,54.6 508.6,54.3 509.6,54.1 512.6,53.9 517.6,53.2 518.6,53.2 520.6,52.9 524.6,52.7 525.6,52.4 541.6,51.3 544.6,51.3 546.6,51.0 551.6,50.9 558.6,51.2 559.6,51.4 561.5,51.5 566.5,52.2 567.5,52.2 569.5,52.7 570.5,52.7 571.5,53.0 578.5,54.2 586.5,55.3 593.5,56.6 594.5,56.7 596.5,57.2 598.5,57.6 601.5,58.3 609.5,60.7 610.5,61.1 622.5,65.1 623.5,65.6 631.5,68.6 635.4,69.9 638.4,71.1 650.4,74.5 668.4,79.1 668.4,171.5"/>
<polygon fill="#1C5AC0" points="380.8,171.5 380.8,156.7 381.8,150.4 382.8,146.1 384.8,139.0 385.8,132.7 386.8,135.5 387.8,134.7 388.8,134.4 389.8,138.4 390.8,137.8 391.8,138.8 392.8,138.1 393.8,133.5 394.8,137.0 395.8,137.4 396.8,135.9 397.8,137.4 398.8,134.9 399.8,138.7 400.8,139.5 401.8,136.4 403.8,135.3 404.8,134.0 405.8,133.2 406.8,133.6 407.8,131.8 409.8,129.0 410.8,128.3 412.8,126.3 413.8,126.2 414.8,125.0 415.8,124.9 416.8,123.8 418.7,122.6 419.7,122.9 421.7,122.4 423.7,121.6 425.7,120.1 426.7,119.0 428.7,118.7 429.7,118.8 430.7,118.4 431.7,119.4 432.7,119.7 433.7,119.6 434.7,119.8 435.7,119.9 436.7,119.3 438.7,118.9 439.7,119.2 440.7,119.1 441.7,119.4 442.7,119.0 443.7,119.1 444.7,119.1 445.7,119.6 446.7,119.4 448.7,119.6 451.7,120.3 453.7,121.0 456.7,121.9 457.7,122.5 458.7,122.6 459.7,123.1 460.7,123.1 461.7,123.4 465.7,123.2 466.7,123.4 470.7,123.4 472.7,123.0 476.7,122.6 477.7,122.8 478.7,122.5 482.7,122.0 483.7,121.5 484.7,121.4 488.6,120.3 490.6,119.9 491.6,119.6 492.6,119.5 493.6,119.2 496.6,118.6 499.6,118.1 500.6,117.8 505.6,117.2 509.6,116.4 515.6,115.5 516.6,115.5 520.6,114.9 524.6,114.7 525.6,114.4 526.6,114.4 527.6,114.2 530.6,114.1 542.6,112.8 550.6,112.3 554.6,112.4 558.6,112.3 559.6,112.5 561.5,112.4 570.5,112.7 581.5,114.0 586.5,114.8 593.5,116.2 594.5,116.3 597.5,116.9 598.5,117.0 616.5,120.9 622.5,121.8 623.5,122.1 630.5,123.1 638.4,123.7 643.4,124.0 650.4,124.1 651.4,123.9 656.4,123.8 663.4,123.3 668.4,122.7 668.4,171.5"/>
<polygon fill="#7E2F8E" points="380.8,171.5 380.8,165.1 381.8,160.5 382.8,154.7 383.8,149.9 384.8,146.0 385.8,139.3 386.8,143.6 387.8,140.8 388.8,140.6 389.8,144.5 390.8,142.8 391.8,143.2 392.8,143.5 393.8,140.2 394.8,144.8 396.8,142.8 397.8,143.6 398.8,143.0 399.8,146.4 400.8,147.3 401.8,143.1 402.8,142.9 405.8,140.0 406.8,139.5 409.8,134.8 410.8,134.1 412.8,132.0 413.8,131.9 415.8,130.3 417.7,129.7 418.7,128.9 419.7,129.1 420.7,129.0 423.7,128.1 424.7,127.6 426.7,127.0 428.7,127.0 429.7,127.1 430.7,126.9 431.7,127.7 432.7,128.3 434.7,129.0 435.7,129.0 436.7,129.5 438.7,129.6 439.7,130.1 440.7,130.3 443.7,131.6 444.7,131.9 445.7,132.8 448.7,133.8 450.7,135.0 452.7,135.6 453.7,136.4 454.7,136.7 455.7,137.4 456.7,137.7 457.7,138.4 459.7,139.4 460.7,139.6 461.7,140.3 464.7,141.0 465.7,141.1 466.7,141.6 468.7,142.2 475.7,143.6 477.7,143.9 478.7,143.7 479.7,144.0 480.7,144.0 482.7,144.3 483.7,144.1 484.7,144.3 487.7,144.3 492.6,144.6 493.6,144.4 495.6,144.6 497.6,144.5 498.6,144.7 499.6,144.7 500.6,144.6 509.6,145.0 518.6,146.0 520.6,146.1 524.6,146.6 527.6,146.8 530.6,147.2 533.6,147.4 534.6,147.6 542.6,148.6 549.6,149.7 556.6,151.0 558.6,151.3 559.6,151.6 561.5,151.9 568.5,153.6 575.5,155.7 580.5,156.9 586.5,158.1 590.5,159.1 593.5,160.0 594.5,160.2 616.5,167.1 623.5,169.1 628.5,170.2 634.4,171.1 638.4,171.5 668.4,171.5 668.4,171.5"/>
<clipPath id="cpb"><polygon points="380.4,14.5 380.8,112.1 381.8,118.7 382.8,119.7 383.8,120.4 384.8,118.1 385.8,107.0 386.8,102.3 387.8,99.3 388.8,97.2 389.8,101.0 390.8,96.4 391.8,97.9 392.8,95.4 393.8,87.6 394.8,89.7 396.8,82.4 397.8,85.4 398.8,84.4 399.8,89.5 400.8,86.9 401.8,85.4 402.8,83.6 403.8,82.9 404.8,81.9 405.8,81.6 406.8,83.0 408.8,83.1 409.8,82.6 410.8,84.0 411.8,83.8 412.8,83.2 413.8,83.3 414.8,82.0 415.8,81.9 417.7,80.5 418.7,79.4 419.7,78.7 420.7,78.3 421.7,77.1 422.7,76.4 424.7,73.9 425.7,73.2 426.7,71.2 427.7,71.1 428.7,70.2 429.7,70.0 430.7,68.5 431.7,68.4 432.7,67.6 434.7,66.4 435.7,66.4 436.7,65.8 437.7,65.5 438.7,64.8 439.7,64.6 440.7,64.1 441.7,63.9 444.7,62.0 445.7,61.9 446.7,61.1 447.7,60.9 449.7,59.4 450.7,59.2 452.7,57.9 453.7,57.8 454.7,57.0 455.7,56.8 457.7,55.4 459.7,54.5 460.7,53.8 462.7,52.9 465.7,51.1 467.7,50.6 468.7,50.0 469.7,49.7 470.7,49.5 472.7,48.4 474.7,47.8 476.7,47.0 477.7,46.9 478.7,46.3 482.7,45.2 484.7,44.4 485.7,44.2 487.7,43.5 489.6,43.1 495.6,41.4 499.6,40.6 500.6,40.2 504.6,39.5 508.6,38.4 516.6,37.3 518.6,37.2 521.6,36.8 522.6,36.9 523.6,36.7 524.6,36.7 525.6,36.5 531.6,36.2 532.6,36.0 534.6,36.1 543.6,35.5 544.6,35.6 546.6,35.3 549.6,35.2 552.6,35.2 556.6,35.3 557.6,35.3 561.5,35.5 563.5,35.7 570.5,36.1 580.5,37.0 581.5,37.0 582.5,37.2 585.5,37.4 592.5,38.2 594.5,38.3 597.5,38.8 598.5,38.8 609.5,40.6 621.5,42.9 632.5,45.6 635.4,46.2 638.4,47.0 645.4,48.3 656.4,50.6 660.4,51.2 668.4,52.8 668.7,14.5"/></clipPath>
<g clip-path="url(#cpb)" stroke="#000" stroke-opacity="0.065" stroke-width="1"><line x1="415.5" y1="14.5" x2="415.5" y2="171.5"/><line x1="466.5" y1="14.5" x2="466.5" y2="171.5"/><line x1="516.5" y1="14.5" x2="516.5" y2="171.5"/><line x1="567.5" y1="14.5" x2="567.5" y2="171.5"/><line x1="617.5" y1="14.5" x2="617.5" y2="171.5"/><line x1="380.4" y1="92.5" x2="668.7" y2="92.5"/></g>
<g stroke="#262626" stroke-width="1" stroke-opacity="0.9"><line x1="415.5" y1="171.5" x2="415.5" y2="168.5"/><line x1="415.5" y1="14.5" x2="415.5" y2="17.5"/><line x1="466.5" y1="171.5" x2="466.5" y2="168.5"/><line x1="466.5" y1="14.5" x2="466.5" y2="17.5"/><line x1="516.5" y1="171.5" x2="516.5" y2="168.5"/><line x1="516.5" y1="14.5" x2="516.5" y2="17.5"/><line x1="567.5" y1="171.5" x2="567.5" y2="168.5"/><line x1="567.5" y1="14.5" x2="567.5" y2="17.5"/><line x1="617.5" y1="171.5" x2="617.5" y2="168.5"/><line x1="617.5" y1="14.5" x2="617.5" y2="17.5"/><line x1="380.4" y1="92.5" x2="383.4" y2="92.5"/><line x1="668.7" y1="92.5" x2="665.7" y2="92.5"/></g>
<rect x="380.4" y="14.5" width="288.30" height="157.00" fill="none" stroke="#262626" stroke-width="0.8"/>
<text class="tk" x="415.8" y="193.0" text-anchor="middle">2050</text>
<text class="tk" x="466.4" y="193.0" text-anchor="middle">2100</text>
<text class="tk" x="517.0" y="193.0" text-anchor="middle">2150</text>
<text class="tk" x="567.5" y="193.0" text-anchor="middle">2200</text>
<text class="tk" x="618.1" y="193.0" text-anchor="middle">2250</text>
<text class="tk" x="668.7" y="193.0" text-anchor="middle">2300</text>
<text class="tk" x="373.8" y="177.5" text-anchor="end">0</text>
<text class="tk" x="373.8" y="99.0" text-anchor="end">0.5</text>
<text class="tk" x="373.8" y="20.5" text-anchor="end">1</text>
<rect x="46.6" y="363.4" width="66.40" height="156.60" fill="#fff"/>
<polygon fill="#ABCB94" points="47.0,520.0 47.0,365.5 47.7,367.0 48.3,367.4 49.0,368.0 49.7,368.1 50.3,369.2 51.0,369.7 51.6,369.3 52.3,368.6 53.0,367.6 54.3,367.4 55.0,366.8 55.6,367.0 56.3,366.2 57.0,365.9 57.6,366.2 58.9,365.4 59.6,366.0 60.3,365.2 60.9,365.1 61.6,364.8 62.3,365.4 62.9,365.0 63.6,365.1 64.3,364.9 64.9,364.9 65.6,364.7 66.2,364.9 68.9,364.9 76.9,365.2 87.5,364.9 93.5,364.9 112.7,365.6 112.7,520.0"/>
<polygon fill="#B3B3A6" points="47.0,520.0 47.0,366.9 47.7,368.4 49.0,369.2 49.7,369.2 51.0,371.7 51.6,371.4 52.3,370.1 53.0,369.1 53.6,368.6 54.3,368.6 55.0,368.0 55.6,369.4 56.3,368.1 57.0,367.4 57.6,368.4 58.3,368.2 58.9,367.3 59.6,368.0 60.3,367.5 60.9,367.5 61.6,366.6 62.3,368.2 62.9,367.4 63.6,367.1 64.3,367.7 64.9,367.8 65.6,367.2 66.2,367.5 66.9,367.3 67.6,367.6 68.9,367.4 70.9,367.2 78.9,367.0 88.1,366.3 94.8,366.3 98.1,366.5 98.8,366.4 100.8,366.6 104.7,366.7 112.7,367.4 112.7,520.0"/>
<polygon fill="#6DAEC0" points="47.0,520.0 47.0,368.6 47.7,369.7 48.3,370.5 49.0,370.9 49.7,370.7 50.3,371.6 51.0,372.9 51.6,372.6 53.0,370.3 53.6,370.3 54.3,369.9 55.6,370.2 56.3,370.0 57.0,368.7 57.6,369.3 58.9,368.8 59.6,369.4 60.3,368.6 60.9,368.4 61.6,367.7 62.3,369.5 62.9,368.4 63.6,368.5 64.3,368.3 64.9,368.7 65.6,368.4 66.2,368.6 66.9,368.4 68.2,368.5 70.9,368.2 78.9,368.0 87.5,367.0 91.5,367.1 92.1,367.0 94.1,367.1 94.8,367.0 96.1,367.2 102.7,367.3 112.7,368.0 112.7,520.0"/>
<polygon fill="#D3A99D" points="47.0,520.0 47.0,374.2 48.3,376.9 49.7,378.4 50.3,378.5 51.0,380.4 51.6,380.3 53.0,377.3 53.6,378.0 54.3,377.2 55.0,377.1 55.6,377.5 56.3,377.0 57.0,375.2 57.6,376.4 58.3,375.6 58.9,375.3 59.6,375.7 60.3,374.7 60.9,375.1 61.6,374.2 62.3,375.6 62.9,374.6 63.6,374.8 64.3,374.8 64.9,375.1 65.6,375.2 66.2,375.6 66.9,375.3 67.6,375.9 70.9,376.2 72.9,376.2 74.9,375.6 77.5,374.4 84.2,372.4 88.1,371.5 93.5,370.7 94.1,370.7 94.8,370.5 98.8,370.2 103.4,370.1 106.7,370.4 108.1,370.3 112.7,370.9 112.7,520.0"/>
<polygon fill="#8BA3B6" points="47.0,520.0 47.0,374.7 47.7,376.5 48.3,377.1 49.0,378.8 49.7,379.5 50.3,379.5 51.0,381.0 51.6,380.6 53.0,378.3 53.6,378.9 54.3,378.9 55.0,378.4 56.3,378.8 57.0,376.9 57.6,379.1 58.3,377.4 58.9,377.5 59.6,378.2 60.3,377.6 60.9,377.7 61.6,377.5 62.3,378.2 62.9,377.3 63.6,377.7 64.3,377.8 64.9,378.1 65.6,378.7 66.2,378.8 66.9,378.7 67.6,379.2 71.6,379.4 72.9,379.4 74.9,378.9 76.2,378.3 76.9,378.2 80.8,376.9 83.5,376.2 84.8,375.9 86.8,375.3 92.1,374.5 94.8,374.2 100.1,373.8 101.4,373.9 102.7,373.8 105.4,373.9 108.1,373.9 112.7,374.1 112.7,520.0"/>
<polygon fill="#938DCB" points="47.0,520.0 47.0,379.1 48.3,381.8 49.0,383.8 49.7,385.1 50.3,385.0 51.0,386.5 51.6,385.9 52.3,385.8 53.0,384.0 53.6,385.1 54.3,384.5 55.0,384.9 55.6,384.3 56.3,384.6 57.0,384.0 57.6,385.2 58.3,383.9 58.9,384.5 59.6,385.5 60.3,385.0 60.9,385.2 61.6,385.1 62.3,386.6 62.9,385.7 63.6,386.7 64.3,386.3 65.6,387.7 66.2,387.6 66.9,387.8 68.2,388.4 70.2,388.9 71.6,389.2 72.9,389.1 74.9,388.5 79.5,386.5 88.1,381.4 94.8,378.9 98.8,377.8 102.7,377.2 106.7,377.0 108.1,376.8 112.7,376.7 112.7,520.0"/>
<polygon fill="#EDB120" points="47.0,520.0 47.0,379.3 47.7,381.4 48.3,382.5 49.0,384.1 49.7,386.2 50.3,385.9 51.0,386.6 51.6,386.9 52.3,385.9 53.0,385.3 54.3,385.0 55.0,385.4 55.6,385.0 56.3,385.4 57.0,384.5 57.6,385.8 58.3,384.6 58.9,384.8 59.6,386.1 60.3,385.2 60.9,386.1 61.6,386.1 62.3,387.1 62.9,387.0 63.6,387.1 64.3,386.9 64.9,387.8 65.6,388.4 66.2,388.2 69.6,389.5 71.6,389.9 72.9,389.8 74.9,389.2 75.5,388.7 80.2,386.5 88.1,381.8 93.5,379.7 96.1,378.8 98.8,378.1 102.7,377.5 108.7,377.1 112.7,377.0 112.7,520.0"/>
<polygon fill="#009E73" points="47.0,520.0 47.0,387.3 47.7,389.3 48.3,389.6 49.7,391.6 50.3,390.6 51.0,390.7 51.6,391.2 52.3,390.1 53.0,389.4 53.6,389.1 54.3,388.5 55.0,388.7 56.3,387.6 57.0,387.5 57.6,389.5 58.3,388.3 59.6,389.1 60.3,389.1 60.9,389.5 61.6,389.7 62.3,391.7 62.9,391.1 63.6,391.2 64.9,392.6 65.6,393.5 66.2,393.6 66.9,394.3 67.6,394.7 68.2,395.3 69.6,396.1 70.2,396.4 71.6,396.7 72.9,396.6 73.5,396.4 74.9,395.7 77.5,393.9 80.2,392.3 85.5,389.0 88.1,387.5 94.8,385.1 98.8,384.1 102.7,383.5 108.7,383.2 112.7,383.2 112.7,520.0"/>
<polygon fill="#1C5AC0" points="47.0,520.0 47.0,417.2 47.7,416.3 48.3,414.3 49.0,413.3 49.7,413.2 50.3,413.7 51.6,417.8 52.3,419.0 53.6,420.5 55.0,422.5 57.0,424.3 57.6,427.0 58.3,427.5 58.9,429.9 60.3,432.1 60.9,433.9 61.6,434.9 62.3,437.9 63.6,439.5 64.3,440.1 66.9,447.1 68.2,449.1 69.6,450.5 70.2,451.0 71.6,451.6 73.5,452.3 74.9,452.5 76.2,452.1 76.9,451.9 80.2,450.0 81.5,449.1 84.8,446.5 89.5,442.3 91.5,440.8 96.8,437.7 102.7,433.9 108.1,431.1 112.7,429.0 112.7,520.0"/>
<polygon fill="#7E2F8E" points="47.0,520.0 47.0,420.7 47.7,418.9 48.3,416.5 49.0,417.0 49.7,415.9 50.3,416.7 51.6,419.8 53.0,421.6 53.6,422.8 54.3,423.4 55.6,425.0 56.3,426.6 57.0,427.0 57.6,429.5 58.3,430.2 59.6,433.9 60.9,436.4 62.3,440.0 62.9,440.3 63.6,441.1 64.3,442.3 65.6,448.2 66.9,451.9 68.2,454.8 69.6,456.7 70.2,457.3 71.6,458.3 72.9,459.2 73.5,459.4 74.9,459.6 76.9,459.3 78.9,458.5 80.8,457.5 84.8,454.4 92.8,447.2 96.1,444.5 100.1,441.5 102.7,440.2 106.7,438.6 112.7,435.7 112.7,520.0"/>
<clipPath id="cpc"><polygon points="46.6,363.4 47.0,379.3 47.7,381.4 48.3,382.5 49.0,384.1 49.7,386.2 50.3,385.9 51.0,386.6 51.6,386.9 52.3,385.9 53.0,385.3 54.3,385.0 55.0,385.4 55.6,385.0 56.3,385.4 57.0,384.5 57.6,385.8 58.3,384.6 58.9,384.8 59.6,386.1 60.3,385.2 60.9,386.1 61.6,386.1 62.3,387.1 62.9,387.0 63.6,387.1 64.3,386.9 64.9,387.8 65.6,388.4 66.2,388.2 69.6,389.5 71.6,389.9 72.9,389.8 74.9,389.2 75.5,388.7 80.2,386.5 88.1,381.8 93.5,379.7 96.1,378.8 98.8,378.1 102.7,377.5 108.7,377.1 112.7,377.0 113.0,363.4"/></clipPath>
<g clip-path="url(#cpc)" stroke="#000" stroke-opacity="0.065" stroke-width="1"><line x1="66.5" y1="363.4" x2="66.5" y2="520.0"/><line x1="89.5" y1="363.4" x2="89.5" y2="520.0"/><line x1="46.6" y1="441.5" x2="113.0" y2="441.5"/></g>
<g stroke="#262626" stroke-width="1" stroke-opacity="0.9"><line x1="66.5" y1="520.0" x2="66.5" y2="518.2"/><line x1="66.5" y1="363.4" x2="66.5" y2="365.2"/><line x1="89.5" y1="520.0" x2="89.5" y2="518.2"/><line x1="89.5" y1="363.4" x2="89.5" y2="365.2"/><line x1="46.6" y1="441.5" x2="48.4" y2="441.5"/><line x1="113.0" y1="441.5" x2="111.2" y2="441.5"/></g>
<rect x="46.6" y="363.4" width="66.40" height="156.60" fill="none" stroke="#262626" stroke-width="0.8"/>
<text class="tk" x="66.4" y="541.5" text-anchor="middle">2100</text>
<text class="tk" x="113.0" y="541.5" text-anchor="middle">2300</text>
<text class="tk" x="40.0" y="526.0" text-anchor="end">0</text>
<text class="tk" x="40.0" y="447.7" text-anchor="end">0.5</text>
<text class="tk" x="40.0" y="369.4" text-anchor="end">1</text>
<rect x="158.2" y="363.4" width="66.50" height="156.60" fill="#fff"/>
<polygon fill="#ABCB94" points="158.6,520.0 158.6,373.5 159.3,372.3 160.6,370.7 161.3,370.5 161.9,370.8 162.6,370.9 163.3,370.7 163.9,371.2 164.6,370.9 165.2,372.0 165.9,372.7 166.6,372.9 167.2,373.5 167.9,374.4 168.6,374.7 169.2,374.6 169.9,375.7 170.6,375.7 171.9,376.8 172.6,376.8 173.2,377.1 173.9,376.9 175.2,377.3 175.9,377.2 176.5,377.3 177.2,376.9 179.2,376.8 181.2,376.1 184.5,374.6 188.5,373.4 192.5,372.4 198.5,371.3 201.8,370.8 209.8,370.0 217.8,369.6 224.4,369.4 224.4,520.0"/>
<polygon fill="#B3B3A6" points="158.6,520.0 158.6,374.2 159.3,373.9 159.9,372.9 161.3,372.1 161.9,372.7 162.6,372.5 163.3,372.6 163.9,374.5 164.6,374.1 165.9,378.7 166.6,379.6 167.2,381.2 167.9,383.5 168.6,385.0 169.2,385.8 169.9,389.0 170.6,389.2 171.2,391.0 172.6,393.5 173.9,394.3 174.6,395.9 175.2,395.8 175.9,395.9 176.5,396.3 177.2,395.3 177.9,395.4 178.5,395.3 179.2,394.7 181.2,393.7 184.5,392.4 186.5,391.8 193.2,389.1 198.5,387.7 205.1,386.1 205.8,386.0 209.8,384.9 211.8,384.5 213.1,384.1 216.4,383.5 217.8,383.1 224.4,381.7 224.4,520.0"/>
<polygon fill="#6DAEC0" points="158.6,520.0 158.6,376.1 159.3,375.8 160.6,373.4 161.3,372.9 161.9,373.8 162.6,373.7 163.3,374.1 163.9,376.7 164.6,376.7 165.2,379.2 165.9,381.2 167.2,384.5 167.9,387.2 168.6,388.9 169.2,389.4 169.9,392.0 170.6,393.1 172.6,397.4 173.9,398.3 174.6,399.6 175.9,400.2 176.5,400.9 177.2,400.2 178.5,400.0 179.2,399.4 181.2,398.0 184.5,396.2 189.2,394.1 192.5,392.9 195.2,392.3 202.5,391.2 204.5,390.7 205.8,390.6 211.1,389.5 211.8,389.5 219.7,387.8 224.4,386.6 224.4,520.0"/>
<polygon fill="#D3A99D" points="158.6,520.0 158.6,380.6 159.3,380.2 159.9,380.2 160.6,379.9 161.3,379.3 161.9,379.5 163.3,380.2 163.9,382.4 164.6,382.4 165.9,388.3 167.9,398.9 169.9,406.6 171.2,410.1 171.9,411.5 172.6,413.8 173.2,414.6 173.9,415.7 174.6,417.2 175.2,416.9 175.9,417.9 176.5,418.4 177.2,417.8 178.5,417.5 179.2,416.6 179.9,416.4 181.2,415.2 186.5,411.6 191.8,407.1 193.2,406.2 195.2,405.2 201.8,402.5 211.1,399.1 218.4,397.0 224.4,395.6 224.4,520.0"/>
<polygon fill="#8BA3B6" points="158.6,520.0 158.6,382.2 159.3,380.6 161.3,379.6 161.9,380.4 162.6,380.8 163.3,380.9 163.9,382.7 164.6,383.6 165.9,388.3 166.6,393.4 167.2,396.3 168.6,403.4 169.2,405.7 169.9,408.9 171.2,413.2 172.6,419.1 173.2,420.2 173.9,421.7 174.6,424.1 175.2,423.2 175.9,424.8 176.5,425.1 177.2,425.1 178.5,424.6 179.2,423.8 179.9,423.6 181.2,422.3 183.9,420.5 185.9,419.2 188.5,418.0 193.8,416.0 201.1,412.8 209.8,410.0 217.1,408.2 224.4,406.6 224.4,520.0"/>
<polygon fill="#938DCB" points="158.6,520.0 158.6,382.2 159.3,380.6 159.9,380.4 160.6,380.0 161.3,380.1 162.6,381.1 163.3,380.9 163.9,383.1 164.6,383.8 165.2,385.7 165.9,388.3 166.6,393.5 168.6,403.4 169.2,405.7 169.9,408.9 171.2,413.2 172.6,419.3 173.2,420.2 173.9,421.7 174.6,424.3 175.2,423.3 175.9,424.8 176.5,425.1 177.2,425.1 178.5,424.6 179.2,423.8 179.9,423.6 181.2,422.4 183.9,420.5 185.9,419.2 188.5,418.0 191.2,417.1 193.8,416.0 201.1,412.8 209.8,410.0 217.8,408.0 224.4,406.6 224.4,520.0"/>
<polygon fill="#EDB120" points="158.6,520.0 158.6,391.0 159.3,390.0 159.9,390.4 160.6,391.2 161.3,391.7 161.9,393.2 163.3,394.9 163.9,396.6 164.6,397.4 165.9,402.1 166.6,405.9 167.9,411.9 168.6,413.8 169.9,420.0 171.9,427.1 172.6,431.1 173.2,432.1 174.6,436.2 175.2,435.7 175.9,437.1 176.5,437.9 177.2,438.0 178.5,437.2 179.2,436.2 179.9,435.6 181.2,433.9 181.9,433.3 185.9,430.7 187.8,429.0 191.8,425.1 193.8,423.8 198.5,421.7 209.8,417.4 217.8,415.0 224.4,413.5 224.4,520.0"/>
<polygon fill="#009E73" points="158.6,520.0 158.6,439.8 159.9,427.1 160.6,423.4 161.3,424.5 161.9,428.7 162.6,430.3 163.3,430.3 164.6,432.1 165.9,440.9 167.2,446.4 167.9,448.1 168.6,449.4 169.2,451.9 171.9,459.8 172.6,463.8 173.2,464.7 174.6,469.5 176.5,474.2 177.2,475.1 178.5,476.5 179.2,476.8 179.9,477.3 182.5,478.1 183.9,478.3 187.8,479.2 193.8,480.5 202.5,482.8 211.1,484.8 217.8,486.9 224.4,489.3 224.4,520.0"/>
<polygon fill="#1C5AC0" points="158.6,520.0 158.6,439.8 159.9,442.0 160.6,444.6 161.3,448.3 162.6,454.5 163.3,456.5 163.9,459.4 167.2,476.9 169.2,488.8 170.6,495.8 171.9,502.0 172.6,506.6 173.2,507.3 174.6,512.4 175.2,514.4 176.5,516.5 178.5,518.2 179.2,518.2 179.9,518.6 181.2,519.0 182.5,518.8 185.2,517.2 189.8,515.2 191.8,514.6 193.8,514.3 198.5,513.8 204.5,513.7 211.1,514.0 217.8,514.7 219.7,515.0 224.4,515.3 224.4,520.0"/>
<polygon fill="#7E2F8E" points="158.6,520.0 158.6,441.0 159.3,441.8 159.9,443.4 162.6,456.0 163.3,457.4 163.9,461.5 166.6,474.7 167.9,482.7 171.9,503.7 172.6,507.8 173.2,508.9 174.6,513.5 175.2,515.3 176.5,518.1 177.2,518.9 178.5,519.9 183.2,519.9 183.9,519.7 185.9,518.6 189.8,516.6 191.8,515.9 193.8,515.6 199.1,515.1 205.1,515.1 211.1,515.4 219.7,516.4 224.4,516.8 224.4,520.0"/>
<clipPath id="cpd"><polygon points="158.2,363.4 158.6,391.0 159.3,390.0 159.9,390.4 160.6,391.2 161.3,391.7 161.9,393.2 163.3,394.9 163.9,396.6 164.6,397.4 165.9,402.1 166.6,405.9 167.9,411.9 168.6,413.8 169.9,420.0 171.9,427.1 172.6,431.1 173.2,432.1 174.6,436.2 175.2,435.7 175.9,437.1 176.5,437.9 177.2,438.0 178.5,437.2 179.2,436.2 179.9,435.6 181.2,433.9 181.9,433.3 185.9,430.7 187.8,429.0 191.8,425.1 193.8,423.8 198.5,421.7 209.8,417.4 217.8,415.0 224.4,413.5 224.7,363.4"/></clipPath>
<g clip-path="url(#cpd)" stroke="#000" stroke-opacity="0.065" stroke-width="1"><line x1="177.5" y1="363.4" x2="177.5" y2="520.0"/><line x1="201.5" y1="363.4" x2="201.5" y2="520.0"/><line x1="158.2" y1="441.5" x2="224.7" y2="441.5"/></g>
<g stroke="#262626" stroke-width="1" stroke-opacity="0.9"><line x1="177.5" y1="520.0" x2="177.5" y2="518.2"/><line x1="177.5" y1="363.4" x2="177.5" y2="365.2"/><line x1="201.5" y1="520.0" x2="201.5" y2="518.2"/><line x1="201.5" y1="363.4" x2="201.5" y2="365.2"/><line x1="158.2" y1="441.5" x2="160.0" y2="441.5"/><line x1="224.7" y1="441.5" x2="222.89999999999998" y2="441.5"/></g>
<rect x="158.2" y="363.4" width="66.50" height="156.60" fill="none" stroke="#262626" stroke-width="0.8"/>
<text class="tk" x="178.0" y="541.5" text-anchor="middle">2100</text>
<text class="tk" x="224.7" y="541.5" text-anchor="middle">2300</text>
<text class="tk" x="151.6" y="526.0" text-anchor="end">0</text>
<text class="tk" x="151.6" y="447.7" text-anchor="end">0.5</text>
<text class="tk" x="151.6" y="369.4" text-anchor="end">1</text>
<rect x="268.5" y="363.4" width="67.70" height="156.60" fill="#fff"/>
<polygon fill="#ABCB94" points="268.9,520.0 268.9,372.0 269.6,371.2 270.9,371.1 271.6,370.6 272.2,370.9 272.9,370.7 273.6,371.0 274.3,370.7 274.9,371.3 275.6,370.6 276.3,370.6 277.6,370.0 278.3,369.9 278.9,369.6 280.3,370.2 281.0,370.3 281.6,370.2 283.0,370.6 283.6,370.0 285.0,371.1 285.6,370.9 286.3,371.2 288.3,371.7 289.0,371.9 295.0,373.0 299.7,373.3 304.4,373.5 335.9,372.3 335.9,520.0"/>
<polygon fill="#B3B3A6" points="268.9,520.0 268.9,373.4 269.6,371.2 270.2,372.0 270.9,371.6 271.6,370.6 272.2,371.0 272.9,370.7 273.6,371.5 274.3,371.1 275.6,371.3 276.3,371.7 276.9,371.0 277.6,370.5 278.3,371.0 278.9,370.1 280.3,371.5 281.0,371.2 281.6,371.6 283.0,371.4 283.6,370.0 284.3,371.2 285.0,371.7 285.6,371.9 286.3,371.7 287.0,372.0 288.3,372.0 289.0,372.4 289.7,372.7 290.3,372.7 295.0,373.6 298.4,373.8 317.8,373.7 327.2,373.4 335.9,372.9 335.9,520.0"/>
<polygon fill="#6DAEC0" points="268.9,520.0 268.9,373.6 269.6,373.3 270.2,373.2 271.6,371.9 272.2,371.4 272.9,371.6 273.6,372.5 274.3,371.8 274.9,372.0 275.6,371.8 276.3,372.1 277.6,371.3 279.6,371.8 280.3,372.4 281.0,372.6 281.6,372.5 282.3,372.0 283.0,372.5 283.6,371.5 284.3,372.6 285.6,373.8 287.7,374.0 288.3,373.9 289.7,374.6 290.3,374.7 293.7,375.8 295.0,376.1 298.4,376.5 304.4,376.8 325.8,376.3 335.9,375.9 335.9,520.0"/>
<polygon fill="#D3A99D" points="268.9,520.0 268.9,378.7 269.6,377.4 270.2,378.4 270.9,377.5 271.6,377.7 272.2,376.0 273.6,377.1 274.3,376.1 274.9,377.0 275.6,377.0 276.3,376.2 276.9,376.5 277.6,375.7 278.3,376.4 278.9,376.1 279.6,376.6 281.0,377.1 281.6,376.5 282.3,376.9 283.0,376.5 283.6,375.7 284.3,376.8 285.0,377.5 285.6,377.2 286.3,377.5 287.0,377.5 288.3,377.4 289.0,377.9 289.7,378.2 290.3,378.2 291.0,378.5 295.0,379.6 301.1,380.5 305.8,380.6 314.5,380.6 317.8,380.4 325.2,379.8 335.9,379.2 335.9,520.0"/>
<polygon fill="#8BA3B6" points="268.9,520.0 268.9,379.9 269.6,378.6 270.2,379.7 270.9,378.4 271.6,378.7 272.2,377.5 273.6,377.9 274.3,376.9 274.9,377.7 276.3,376.4 276.9,376.8 277.6,376.4 278.3,376.8 279.6,376.6 280.3,377.6 281.0,377.9 282.3,378.0 283.0,377.6 283.6,377.0 284.3,377.9 285.0,379.2 285.6,378.4 286.3,379.1 287.0,379.4 288.3,379.6 289.0,380.2 295.0,383.5 297.7,384.4 301.1,385.2 307.1,386.0 313.8,386.4 321.8,386.6 335.9,386.6 335.9,520.0"/>
<polygon fill="#938DCB" points="268.9,520.0 268.9,379.9 269.6,379.0 270.2,379.7 271.6,378.7 272.2,377.8 272.9,378.2 273.6,378.1 274.3,376.9 274.9,377.9 276.3,376.4 276.9,376.8 277.6,376.6 278.3,376.8 279.6,376.6 281.0,378.7 281.6,377.9 282.3,378.2 283.0,377.8 283.6,377.2 284.3,377.9 285.0,379.4 285.6,378.4 286.3,379.1 287.7,379.6 288.3,379.6 289.0,380.2 290.3,380.8 295.0,383.5 298.4,384.6 301.1,385.2 307.1,386.0 315.8,386.5 335.9,386.7 335.9,520.0"/>
<polygon fill="#EDB120" points="268.9,520.0 268.9,394.9 269.6,394.2 270.2,395.9 270.9,395.8 271.6,396.4 272.2,395.8 272.9,397.1 273.6,396.9 274.3,395.1 274.9,395.6 276.3,393.5 276.9,393.7 277.6,393.0 278.3,393.5 278.9,392.9 279.6,392.6 280.3,393.7 281.0,394.3 281.6,393.8 282.3,394.6 283.0,394.9 283.6,394.1 284.3,394.7 285.0,396.7 286.3,396.6 287.0,397.6 287.7,397.8 288.3,398.2 289.7,399.6 290.3,400.0 293.7,402.9 295.7,404.3 297.7,405.3 299.7,406.0 303.7,407.0 309.8,407.9 319.8,408.8 325.2,408.9 333.9,408.9 335.9,409.0 335.9,520.0"/>
<polygon fill="#009E73" points="268.9,520.0 268.9,407.5 269.6,404.7 270.2,404.1 270.9,403.0 271.6,402.3 272.2,401.4 272.9,401.7 273.6,400.8 274.3,399.4 274.9,399.2 276.3,397.5 276.9,397.1 277.6,396.0 278.3,397.0 278.9,396.4 279.6,396.0 280.3,397.0 281.0,397.3 281.6,396.8 283.6,397.5 284.3,397.0 285.0,398.9 286.3,398.8 287.0,399.3 287.7,399.3 289.0,400.4 290.3,401.2 295.0,405.3 296.4,406.1 297.7,406.7 299.7,407.4 305.1,408.7 312.4,409.9 315.8,411.1 318.5,411.8 325.8,412.5 335.9,412.8 335.9,520.0"/>
<polygon fill="#1C5AC0" points="268.9,520.0 268.9,451.2 269.6,448.7 270.2,448.2 270.9,446.9 271.6,446.2 272.2,445.0 272.9,444.9 274.3,441.5 274.9,441.3 275.6,439.8 276.3,437.7 276.9,437.0 277.6,435.8 278.3,435.6 278.9,435.8 279.6,434.7 280.3,435.7 281.6,435.2 282.3,435.4 283.6,434.9 284.3,434.4 285.0,435.5 285.6,435.7 286.3,435.5 287.0,435.7 287.7,435.4 288.3,435.5 289.0,435.9 291.0,436.3 292.3,437.0 293.0,437.5 296.4,440.3 298.4,441.7 301.1,443.0 302.4,443.5 303.7,443.9 309.8,444.2 310.4,444.1 313.8,444.2 319.8,444.0 323.2,443.6 325.8,443.2 330.5,442.0 335.9,440.0 335.9,520.0"/>
<polygon fill="#7E2F8E" points="268.9,520.0 268.9,453.5 269.6,453.0 270.2,454.4 270.9,455.3 271.6,455.2 273.6,450.3 274.3,448.2 274.9,448.7 275.6,448.1 276.3,446.5 276.9,446.3 277.6,445.4 278.3,445.2 278.9,445.5 279.6,444.8 280.3,445.9 281.0,445.8 281.6,445.4 282.3,445.6 284.3,444.8 285.6,446.2 286.3,446.2 287.0,446.0 287.7,446.2 288.3,446.3 290.3,447.5 293.7,450.1 297.7,452.0 299.7,452.7 303.1,453.7 309.8,454.8 313.8,454.9 317.8,454.8 322.5,454.4 324.5,454.1 329.2,452.9 335.9,451.3 335.9,520.0"/>
<clipPath id="cpe"><polygon points="268.5,363.4 268.9,394.9 269.6,394.2 270.2,395.9 270.9,395.8 271.6,396.4 272.2,395.8 272.9,397.1 273.6,396.9 274.3,395.1 274.9,395.6 276.3,393.5 276.9,393.7 277.6,393.0 278.3,393.5 278.9,392.9 279.6,392.6 280.3,393.7 281.0,394.3 281.6,393.8 282.3,394.6 283.0,394.9 283.6,394.1 284.3,394.7 285.0,396.7 286.3,396.6 287.0,397.6 287.7,397.8 288.3,398.2 289.7,399.6 290.3,400.0 293.7,402.9 295.7,404.3 297.7,405.3 299.7,406.0 303.7,407.0 309.8,407.9 319.8,408.8 325.2,408.9 333.9,408.9 335.9,409.0 336.2,363.4"/></clipPath>
<g clip-path="url(#cpe)" stroke="#000" stroke-opacity="0.065" stroke-width="1"><line x1="288.5" y1="363.4" x2="288.5" y2="520.0"/><line x1="312.5" y1="363.4" x2="312.5" y2="520.0"/><line x1="268.5" y1="441.5" x2="336.2" y2="441.5"/></g>
<g stroke="#262626" stroke-width="1" stroke-opacity="0.9"><line x1="288.5" y1="520.0" x2="288.5" y2="518.2"/><line x1="288.5" y1="363.4" x2="288.5" y2="365.2"/><line x1="312.5" y1="520.0" x2="312.5" y2="518.2"/><line x1="312.5" y1="363.4" x2="312.5" y2="365.2"/><line x1="268.5" y1="441.5" x2="270.3" y2="441.5"/><line x1="336.2" y1="441.5" x2="334.4" y2="441.5"/></g>
<rect x="268.5" y="363.4" width="67.70" height="156.60" fill="none" stroke="#262626" stroke-width="0.8"/>
<text class="tk" x="288.7" y="541.5" text-anchor="middle">2100</text>
<text class="tk" x="336.2" y="541.5" text-anchor="middle">2300</text>
<text class="tk" x="261.9" y="526.0" text-anchor="end">0</text>
<text class="tk" x="261.9" y="447.7" text-anchor="end">0.5</text>
<text class="tk" x="261.9" y="369.4" text-anchor="end">1</text>
<rect x="380.4" y="363.4" width="66.50" height="156.60" fill="#fff"/>
<polygon fill="#ABCB94" points="380.8,520.0 380.8,367.3 381.5,367.3 382.1,367.9 382.8,367.9 383.5,368.5 384.1,368.5 384.8,368.3 386.1,368.3 386.8,367.5 387.4,368.1 388.8,366.4 390.1,366.1 390.8,366.3 391.4,366.0 392.1,366.0 392.8,365.3 393.4,365.4 394.1,365.6 394.8,365.5 395.4,365.3 396.1,364.8 397.4,365.2 398.1,364.6 398.7,365.2 400.7,364.8 402.1,364.9 422.7,364.8 429.3,365.0 431.3,365.2 432.6,365.6 437.3,368.1 446.6,372.7 446.6,520.0"/>
<polygon fill="#B3B3A6" points="380.8,520.0 380.8,368.4 381.5,368.4 382.1,368.9 382.8,368.8 383.5,369.7 384.1,369.7 385.5,369.3 386.1,369.3 386.8,368.1 387.4,369.6 388.1,368.8 388.8,367.5 389.4,367.1 390.1,367.4 390.8,368.0 391.4,367.1 392.1,366.9 392.8,366.5 393.4,366.6 394.1,367.6 394.8,367.3 395.4,366.4 396.1,366.3 396.8,366.8 397.4,366.9 398.1,365.6 398.7,366.9 400.1,366.2 402.7,366.3 404.7,366.2 405.4,366.3 406.7,366.2 411.4,366.3 424.0,366.0 431.3,366.3 433.3,367.2 435.3,368.4 441.3,371.8 443.3,372.8 446.6,374.2 446.6,520.0"/>
<polygon fill="#6DAEC0" points="380.8,520.0 380.8,369.2 381.5,369.3 382.1,369.8 382.8,369.3 383.5,370.9 384.1,370.7 384.8,370.2 386.1,370.1 386.8,368.8 387.4,370.5 388.1,370.0 388.8,368.4 389.4,368.0 390.1,368.0 390.8,368.3 391.4,367.2 392.1,367.8 392.8,367.2 393.4,367.5 394.1,368.2 395.4,367.5 396.1,367.4 396.8,367.7 397.4,367.3 398.1,366.3 398.7,367.5 399.4,367.1 406.7,367.0 412.7,367.0 419.3,366.7 423.3,366.6 428.7,366.9 431.3,367.2 432.6,367.7 436.0,369.5 441.3,372.7 444.6,374.2 446.6,374.9 446.6,520.0"/>
<polygon fill="#D3A99D" points="380.8,520.0 380.8,373.3 382.8,375.6 383.5,376.9 384.1,376.9 384.8,377.3 385.5,376.6 386.1,376.8 386.8,375.0 387.4,376.3 388.1,375.4 388.8,373.8 389.4,374.1 390.1,374.1 390.8,374.2 391.4,373.6 392.1,374.0 392.8,374.2 393.4,373.8 394.1,375.2 394.8,374.8 395.4,374.1 396.8,374.3 398.1,374.0 398.7,374.9 399.4,375.0 400.1,374.8 400.7,375.0 404.1,374.8 405.4,374.5 407.4,373.4 410.7,371.3 413.4,370.2 419.3,368.7 422.7,368.4 424.0,368.4 426.7,368.8 431.3,370.0 433.3,371.2 440.6,376.2 442.6,377.2 444.6,378.0 446.6,378.4 446.6,520.0"/>
<polygon fill="#8BA3B6" points="380.8,520.0 380.8,373.5 381.5,374.4 382.1,375.8 382.8,376.3 383.5,377.1 384.1,377.4 384.8,377.5 385.5,377.3 386.1,377.4 386.8,376.4 387.4,377.5 388.8,375.8 389.4,375.3 390.1,375.7 390.8,375.5 391.4,375.0 392.1,375.6 392.8,375.8 393.4,375.8 394.1,376.8 394.8,377.2 395.4,376.2 396.1,376.6 396.8,376.6 397.4,377.1 398.1,376.8 398.7,378.1 399.4,377.7 400.1,377.5 400.7,377.8 401.4,377.8 402.7,377.6 404.7,377.2 406.1,376.5 409.4,374.3 411.4,373.1 414.7,371.8 418.0,370.7 419.3,370.3 422.7,369.8 425.3,370.0 428.7,370.7 431.3,371.4 434.0,373.0 440.6,377.6 442.6,378.6 444.6,379.4 446.6,379.9 446.6,520.0"/>
<polygon fill="#938DCB" points="380.8,520.0 380.8,380.2 381.5,380.6 382.1,382.5 382.8,381.8 383.5,383.3 384.1,383.3 384.8,382.9 386.1,382.8 386.8,382.3 387.4,383.0 388.1,382.8 389.4,381.6 390.1,381.7 390.8,382.1 391.4,381.4 392.1,382.4 392.8,382.6 393.4,381.9 394.1,383.1 395.4,382.6 396.1,383.1 396.8,383.0 397.4,384.0 398.1,383.9 398.7,385.0 399.4,384.7 402.7,385.0 404.1,384.8 405.4,384.4 406.1,383.9 407.4,382.9 411.4,379.1 417.4,374.9 419.3,373.6 421.3,372.7 422.7,372.3 426.0,372.1 427.3,372.2 429.3,372.0 431.3,372.0 432.6,372.5 441.3,378.3 442.6,378.9 444.6,379.6 446.6,380.0 446.6,520.0"/>
<polygon fill="#EDB120" points="380.8,520.0 380.8,382.1 381.5,382.1 382.1,384.2 382.8,383.5 383.5,384.5 384.1,384.9 385.5,384.8 386.1,383.9 386.8,383.9 387.4,384.0 388.1,384.5 389.4,382.8 390.8,384.0 391.4,382.7 392.1,384.0 392.8,383.5 394.8,385.1 395.4,384.9 396.1,385.0 398.1,386.0 398.7,386.6 400.7,386.4 401.4,386.7 402.7,386.7 404.1,386.5 404.7,386.4 406.1,385.6 407.4,384.5 410.0,381.8 412.0,380.0 415.4,377.8 419.3,375.6 421.3,374.7 423.3,374.2 426.0,373.8 428.0,373.7 428.7,373.9 429.3,374.1 431.3,375.2 432.0,375.7 434.0,377.6 436.0,379.9 438.0,382.5 442.6,389.8 446.6,395.6 446.6,520.0"/>
<polygon fill="#009E73" points="380.8,520.0 380.8,384.2 381.5,384.2 382.1,386.2 382.8,386.1 383.5,387.8 384.1,387.6 384.8,388.1 385.5,388.3 386.1,387.6 386.8,387.1 387.4,387.8 388.1,388.1 389.4,386.5 390.1,386.9 390.8,387.1 391.4,386.8 392.1,387.8 392.8,387.3 393.4,387.6 394.1,389.1 394.8,389.3 395.4,389.3 396.8,389.8 397.4,390.9 398.1,390.8 398.7,392.2 400.1,392.5 400.7,392.7 401.4,393.2 402.7,393.5 404.1,393.4 404.7,393.1 408.1,390.5 412.0,387.8 415.4,385.9 417.4,384.9 419.3,384.1 422.7,383.3 425.3,382.9 428.0,382.7 429.3,383.0 431.3,384.0 432.6,385.1 434.6,387.4 437.3,391.0 440.0,395.9 446.6,409.9 446.6,520.0"/>
<polygon fill="#1C5AC0" points="380.8,520.0 380.8,410.4 382.1,413.2 382.8,414.0 383.5,415.1 384.1,415.8 384.8,416.1 386.1,418.8 386.8,419.6 387.4,422.0 388.1,423.6 388.8,424.9 389.4,425.8 390.1,427.5 390.8,429.9 391.4,430.8 392.1,433.6 392.8,434.7 394.1,438.5 394.8,439.8 395.4,440.0 396.1,441.4 397.4,446.1 398.1,447.7 398.7,449.9 399.4,451.6 400.7,454.3 401.4,455.2 402.7,456.0 404.7,456.4 405.4,456.4 406.7,456.1 407.4,455.9 411.4,453.5 416.0,450.0 418.0,448.8 421.3,447.4 422.7,447.0 424.0,447.0 426.0,447.4 428.0,448.2 428.7,448.5 430.0,449.8 434.0,454.6 440.6,464.0 442.6,466.5 445.9,469.8 446.6,470.3 446.6,520.0"/>
<polygon fill="#7E2F8E" points="380.8,520.0 380.8,413.0 382.1,415.6 382.8,416.0 383.5,417.1 384.1,417.8 385.5,419.7 386.8,422.0 387.4,423.6 388.1,425.9 388.8,427.4 389.4,428.1 390.1,429.6 390.8,432.1 391.4,433.5 392.1,435.9 392.8,436.9 393.4,439.0 394.1,440.2 394.8,441.1 395.4,441.4 397.4,450.3 398.1,452.5 398.7,455.9 399.4,458.4 401.4,464.0 402.7,467.0 403.4,467.9 405.4,469.7 406.7,470.3 407.4,470.4 408.7,470.3 418.0,469.0 421.3,468.9 422.7,469.2 425.3,470.4 427.3,471.6 428.7,472.8 430.0,474.3 431.3,476.0 432.6,478.4 438.0,489.9 442.6,500.5 446.6,508.9 446.6,520.0"/>
<clipPath id="cpf"><polygon points="380.4,363.4 380.8,382.1 381.5,382.1 382.1,384.2 382.8,383.5 383.5,384.5 384.1,384.9 385.5,384.8 386.1,383.9 386.8,383.9 387.4,384.0 388.1,384.5 389.4,382.8 390.8,384.0 391.4,382.7 392.1,384.0 392.8,383.5 394.8,385.1 395.4,384.9 396.1,385.0 398.1,386.0 398.7,386.6 400.7,386.4 401.4,386.7 402.7,386.7 404.1,386.5 404.7,386.4 406.1,385.6 407.4,384.5 410.0,381.8 412.0,380.0 415.4,377.8 419.3,375.6 421.3,374.7 423.3,374.2 426.0,373.8 428.0,373.7 428.7,373.9 429.3,374.1 431.3,375.2 432.0,375.7 434.0,377.6 436.0,379.9 438.0,382.5 442.6,389.8 446.6,395.6 446.9,363.4"/></clipPath>
<g clip-path="url(#cpf)" stroke="#000" stroke-opacity="0.065" stroke-width="1"><line x1="400.5" y1="363.4" x2="400.5" y2="520.0"/><line x1="423.5" y1="363.4" x2="423.5" y2="520.0"/><line x1="380.4" y1="441.5" x2="446.9" y2="441.5"/></g>
<g stroke="#262626" stroke-width="1" stroke-opacity="0.9"><line x1="400.5" y1="520.0" x2="400.5" y2="518.2"/><line x1="400.5" y1="363.4" x2="400.5" y2="365.2"/><line x1="423.5" y1="520.0" x2="423.5" y2="518.2"/><line x1="423.5" y1="363.4" x2="423.5" y2="365.2"/><line x1="380.4" y1="441.5" x2="382.2" y2="441.5"/><line x1="446.9" y1="441.5" x2="445.09999999999997" y2="441.5"/></g>
<rect x="380.4" y="363.4" width="66.50" height="156.60" fill="none" stroke="#262626" stroke-width="0.8"/>
<text class="tk" x="400.2" y="541.5" text-anchor="middle">2100</text>
<text class="tk" x="446.9" y="541.5" text-anchor="middle">2300</text>
<text class="tk" x="373.8" y="526.0" text-anchor="end">0</text>
<text class="tk" x="373.8" y="447.7" text-anchor="end">0.5</text>
<text class="tk" x="373.8" y="369.4" text-anchor="end">1</text>
<rect x="490.7" y="363.4" width="67.30" height="156.60" fill="#fff"/>
<polygon fill="#ABCB94" points="491.1,520.0 491.1,374.2 492.4,371.1 493.1,370.2 493.8,369.6 494.4,369.6 495.8,369.0 497.1,369.1 497.8,369.5 498.4,370.4 499.1,370.9 499.8,371.7 500.4,371.1 501.8,372.8 502.4,372.8 503.8,374.4 504.4,374.6 505.1,374.7 505.8,375.6 506.4,376.0 507.8,375.8 509.7,376.3 511.7,376.2 513.1,375.8 517.1,373.8 521.7,372.2 524.4,371.4 529.7,370.4 533.1,370.0 536.4,369.8 557.7,368.9 557.7,520.0"/>
<polygon fill="#B3B3A6" points="491.1,520.0 491.1,375.3 491.8,373.9 493.8,371.1 494.4,371.0 495.1,371.4 495.8,371.3 496.4,371.1 497.1,371.1 497.8,372.1 498.4,373.6 499.1,374.3 499.8,376.6 500.4,375.2 501.8,378.9 502.4,379.9 503.1,381.6 503.8,384.0 504.4,385.5 505.1,386.2 505.8,388.5 507.1,389.4 507.8,389.5 508.4,389.9 509.1,390.7 509.7,390.8 510.4,391.2 511.7,390.9 513.1,389.3 515.1,386.3 517.7,381.5 519.1,380.0 521.7,377.6 523.7,376.3 525.7,375.3 529.7,373.7 533.1,372.9 539.7,372.1 557.7,370.9 557.7,520.0"/>
<polygon fill="#6DAEC0" points="491.1,520.0 491.1,376.7 491.8,376.1 492.4,374.1 493.8,372.5 494.4,372.9 495.8,372.6 496.4,373.1 497.1,372.2 498.4,375.6 499.1,376.2 499.8,379.2 500.4,378.4 502.4,383.3 503.8,387.4 505.1,389.8 505.8,391.6 507.1,393.5 507.8,393.4 508.4,393.8 509.1,395.1 509.7,395.2 510.4,395.5 511.7,395.2 513.1,393.6 517.7,386.5 520.4,383.5 521.7,382.2 523.7,380.6 525.7,379.6 529.7,378.4 532.4,377.9 537.7,377.4 544.4,377.0 545.0,377.1 557.7,376.0 557.7,520.0"/>
<polygon fill="#D3A99D" points="491.1,520.0 491.1,378.2 491.8,377.5 492.4,376.5 493.1,376.5 493.8,375.5 494.4,375.8 495.1,375.6 495.8,375.8 497.1,375.2 497.8,377.2 498.4,380.1 499.1,381.6 499.8,385.1 500.4,385.5 501.1,387.4 502.4,392.0 503.8,398.1 504.4,398.8 505.1,401.1 506.4,404.2 507.1,405.0 507.8,404.7 508.4,405.2 509.1,406.5 510.4,407.2 511.7,406.5 513.1,404.4 517.7,395.9 521.1,391.1 523.7,388.0 525.7,386.6 529.7,384.8 532.4,384.0 537.7,382.6 549.7,380.5 553.0,380.0 553.7,380.0 557.7,379.5 557.7,520.0"/>
<polygon fill="#8BA3B6" points="491.1,520.0 491.1,379.3 491.8,379.1 492.4,377.5 493.1,377.0 493.8,376.2 494.4,376.8 495.1,376.0 495.8,375.9 496.4,376.3 497.1,376.0 497.8,377.9 498.4,381.1 499.1,382.3 499.8,386.1 500.4,387.1 501.1,389.6 501.8,391.4 503.8,400.0 504.4,401.3 506.4,407.0 507.1,407.2 509.1,409.6 509.7,410.1 510.4,410.4 511.7,410.1 513.1,408.2 514.4,405.9 517.7,400.9 521.7,395.7 523.7,393.7 525.7,392.3 528.4,391.1 531.7,389.9 537.7,388.4 548.4,386.4 557.7,384.9 557.7,520.0"/>
<polygon fill="#938DCB" points="491.1,520.0 491.1,379.9 491.8,379.7 492.4,377.5 493.1,377.0 493.8,376.2 494.4,377.7 495.1,376.0 495.8,375.9 496.4,376.3 497.1,376.0 497.8,378.1 498.4,381.1 499.1,382.5 499.8,386.1 501.1,389.6 501.8,392.4 502.4,394.0 503.8,400.0 506.4,407.0 507.1,407.2 508.4,409.0 509.1,409.6 509.7,410.5 511.7,410.1 513.1,408.3 514.4,405.9 517.7,400.9 521.1,396.5 523.7,393.7 525.7,392.4 529.1,390.9 531.7,389.9 537.7,388.4 548.4,386.4 557.7,384.9 557.7,520.0"/>
<polygon fill="#EDB120" points="491.1,520.0 491.1,395.6 491.8,394.2 493.1,390.5 493.8,389.5 494.4,391.1 495.1,390.2 495.8,391.2 497.1,391.4 497.8,393.4 498.4,396.3 499.1,398.5 499.8,401.6 501.1,405.4 501.8,408.6 502.4,409.9 503.1,413.2 503.8,415.6 504.4,417.9 505.1,419.4 506.4,424.0 507.8,426.5 509.1,429.7 509.7,430.6 510.4,431.1 511.7,431.1 513.1,430.0 515.7,427.0 517.7,424.5 520.4,421.4 521.7,419.9 523.7,418.1 526.4,416.2 529.7,414.5 533.1,413.2 537.7,412.0 553.0,409.2 557.0,408.7 557.7,408.5 557.7,520.0"/>
<polygon fill="#009E73" points="491.1,520.0 491.1,433.6 491.8,431.9 492.4,428.0 493.1,428.4 493.8,438.2 494.4,441.2 495.1,441.1 497.1,447.3 497.8,448.7 498.4,451.3 499.8,454.1 500.4,454.0 501.8,457.6 502.4,458.2 503.1,460.6 504.4,462.9 505.1,463.7 505.8,466.1 506.4,467.7 507.8,469.4 508.4,470.0 509.1,471.9 509.7,472.5 510.4,472.9 511.1,472.9 511.7,472.6 513.1,470.5 514.4,467.9 518.4,461.0 525.7,447.8 528.4,444.1 529.7,442.6 531.1,441.5 533.1,440.5 534.4,440.0 536.4,438.9 537.7,438.6 543.0,438.5 552.4,438.5 555.0,438.4 557.0,438.1 557.7,437.8 557.7,520.0"/>
<polygon fill="#1C5AC0" points="491.1,520.0 491.1,439.2 491.8,441.3 492.4,445.6 493.1,451.7 493.8,454.4 494.4,458.6 495.1,460.6 495.8,463.7 497.1,467.4 497.8,468.5 498.4,470.8 499.8,473.8 500.4,474.0 501.8,478.2 502.4,478.5 503.1,480.8 505.1,484.0 505.8,486.4 506.4,488.0 507.8,489.7 508.4,489.8 509.1,491.1 509.7,491.5 510.4,492.2 511.1,492.5 511.7,492.4 512.4,491.3 513.1,489.7 514.4,485.5 515.1,483.9 517.7,478.9 520.4,474.4 523.7,469.9 525.7,467.5 528.4,464.9 530.4,463.1 531.7,462.1 535.1,459.9 536.4,459.2 538.4,458.4 541.7,457.8 547.0,457.4 554.4,455.9 555.0,455.8 557.7,455.3 557.7,520.0"/>
<polygon fill="#7E2F8E" points="491.1,520.0 491.1,446.6 491.8,448.6 492.4,452.2 493.1,457.0 494.4,463.4 495.1,465.2 495.8,467.7 497.1,471.1 499.8,479.5 500.4,480.4 501.8,484.6 502.4,485.8 503.8,490.9 505.1,494.2 507.1,501.8 508.4,505.4 509.1,508.3 509.7,509.6 510.4,511.7 511.1,513.0 511.7,514.1 513.7,516.5 514.4,517.1 517.1,518.7 518.4,519.3 519.7,519.6 521.7,519.7 527.1,519.3 530.4,518.7 534.4,517.5 537.1,516.5 557.7,506.2 557.7,520.0"/>
<clipPath id="cpg"><polygon points="490.7,363.4 491.1,395.6 491.8,394.2 493.1,390.5 493.8,389.5 494.4,391.1 495.1,390.2 495.8,391.2 497.1,391.4 497.8,393.4 498.4,396.3 499.1,398.5 499.8,401.6 501.1,405.4 501.8,408.6 502.4,409.9 503.1,413.2 503.8,415.6 504.4,417.9 505.1,419.4 506.4,424.0 507.8,426.5 509.1,429.7 509.7,430.6 510.4,431.1 511.7,431.1 513.1,430.0 515.7,427.0 517.7,424.5 520.4,421.4 521.7,419.9 523.7,418.1 526.4,416.2 529.7,414.5 533.1,413.2 537.7,412.0 553.0,409.2 557.0,408.7 557.7,408.5 558.0,363.4"/></clipPath>
<g clip-path="url(#cpg)" stroke="#000" stroke-opacity="0.065" stroke-width="1"><line x1="510.5" y1="363.4" x2="510.5" y2="520.0"/><line x1="534.5" y1="363.4" x2="534.5" y2="520.0"/><line x1="490.7" y1="441.5" x2="558.0" y2="441.5"/></g>
<g stroke="#262626" stroke-width="1" stroke-opacity="0.9"><line x1="510.5" y1="520.0" x2="510.5" y2="518.2"/><line x1="510.5" y1="363.4" x2="510.5" y2="365.2"/><line x1="534.5" y1="520.0" x2="534.5" y2="518.2"/><line x1="534.5" y1="363.4" x2="534.5" y2="365.2"/><line x1="490.7" y1="441.5" x2="492.5" y2="441.5"/><line x1="558.0" y1="441.5" x2="556.2" y2="441.5"/></g>
<rect x="490.7" y="363.4" width="67.30" height="156.60" fill="none" stroke="#262626" stroke-width="0.8"/>
<text class="tk" x="510.8" y="541.5" text-anchor="middle">2100</text>
<text class="tk" x="558.0" y="541.5" text-anchor="middle">2300</text>
<text class="tk" x="484.1" y="526.0" text-anchor="end">0</text>
<text class="tk" x="484.1" y="447.7" text-anchor="end">0.5</text>
<text class="tk" x="484.1" y="369.4" text-anchor="end">1</text>
<rect x="602.6" y="363.4" width="66.40" height="156.60" fill="#fff"/>
<polygon fill="#ABCB94" points="603.0,520.0 603.0,372.3 603.7,372.1 604.3,371.1 605.0,371.7 605.7,371.5 606.3,371.5 607.6,370.9 608.3,370.7 609.0,370.7 609.6,370.6 611.0,370.8 613.0,370.4 613.6,370.7 614.3,370.2 614.9,370.6 615.6,370.1 616.3,370.5 616.9,370.2 617.6,369.3 618.9,369.0 619.6,369.1 620.3,368.6 621.6,368.6 622.2,368.4 622.9,368.0 624.9,367.6 628.9,367.0 638.8,367.1 643.5,367.7 648.8,367.7 657.4,367.5 664.7,366.8 668.7,366.3 668.7,520.0"/>
<polygon fill="#B3B3A6" points="603.0,520.0 603.0,372.6 603.7,372.1 604.3,371.1 605.0,372.5 605.7,371.7 606.3,372.7 607.0,371.8 609.0,370.8 610.3,371.1 611.0,371.0 611.6,371.6 613.0,371.0 613.6,371.6 614.3,370.7 614.9,371.6 615.6,370.7 616.3,371.1 616.9,370.9 617.6,369.4 618.3,369.2 618.9,369.3 619.6,369.6 620.9,369.2 621.6,369.6 622.9,368.8 624.9,368.3 628.9,367.7 638.8,367.7 642.2,368.2 646.1,368.3 654.1,368.1 656.8,367.8 657.4,367.9 661.4,367.6 668.7,366.7 668.7,520.0"/>
<polygon fill="#6DAEC0" points="603.0,520.0 603.0,373.7 603.7,372.8 604.3,372.7 605.0,373.1 605.7,372.3 606.3,373.2 607.0,372.8 607.6,371.8 608.3,372.5 609.0,371.7 609.6,371.9 610.3,371.3 611.0,371.5 612.3,372.2 613.0,371.7 613.6,372.4 614.3,371.5 614.9,371.9 615.6,371.3 616.3,371.4 616.9,371.7 617.6,369.9 618.3,370.5 618.9,369.7 619.6,370.5 620.3,369.8 620.9,369.8 621.6,370.0 622.2,369.9 622.9,369.5 623.6,369.4 624.9,369.0 628.9,368.3 636.2,368.1 639.5,368.3 644.1,368.7 648.8,368.7 661.4,368.0 668.7,367.2 668.7,520.0"/>
<polygon fill="#D3A99D" points="603.0,520.0 603.0,379.0 603.7,376.6 605.0,376.9 605.7,376.6 606.3,377.0 607.0,376.7 607.6,375.9 608.3,376.1 609.0,375.3 610.3,374.6 611.6,374.7 612.3,375.1 613.0,374.8 613.6,375.3 614.3,373.4 614.9,374.5 615.6,374.1 616.3,374.2 616.9,373.9 617.6,372.2 618.3,373.5 618.9,372.1 619.6,372.7 620.3,372.3 620.9,372.1 622.2,372.3 622.9,371.7 624.2,371.4 626.2,370.6 628.9,370.0 636.2,369.4 638.8,369.5 644.1,369.9 648.8,369.8 661.4,368.8 668.7,367.8 668.7,520.0"/>
<polygon fill="#8BA3B6" points="603.0,520.0 603.0,379.6 603.7,378.1 604.3,378.3 605.0,378.3 605.7,377.8 607.0,378.4 607.6,377.2 608.3,377.9 609.0,377.5 609.6,376.6 610.3,376.6 611.0,375.8 611.6,376.6 612.3,377.1 613.0,376.1 613.6,376.7 614.3,375.8 614.9,376.8 615.6,376.1 616.3,376.0 616.9,376.3 617.6,374.9 618.3,375.8 618.9,374.9 619.6,374.4 620.3,374.3 621.6,374.6 622.2,374.5 622.9,374.0 624.2,373.7 628.9,372.0 631.5,371.3 634.9,370.7 636.2,370.5 642.2,370.8 647.5,370.9 658.7,369.7 668.7,368.2 668.7,520.0"/>
<polygon fill="#938DCB" points="603.0,520.0 603.0,379.6 603.7,378.5 604.3,378.8 605.7,377.8 607.0,378.4 607.6,377.5 608.3,377.9 609.0,377.7 609.6,376.8 610.3,377.0 611.0,375.8 611.6,376.6 612.3,377.1 613.0,376.1 613.6,376.7 614.3,375.8 614.9,377.1 615.6,376.4 616.3,376.2 616.9,376.4 617.6,374.9 618.3,375.8 619.6,374.4 620.3,374.5 620.9,374.4 621.6,374.7 622.2,374.5 622.9,374.0 624.9,373.5 628.2,372.2 631.5,371.3 634.9,370.7 636.2,370.5 642.2,370.8 647.5,370.9 658.7,369.7 668.7,368.2 668.7,520.0"/>
<polygon fill="#EDB120" points="603.0,520.0 603.0,395.7 603.7,395.7 604.3,396.2 605.0,395.2 605.7,395.3 606.3,396.0 607.0,395.4 607.6,394.5 608.3,394.5 609.0,394.4 610.3,392.8 611.0,391.2 611.6,391.8 613.0,391.8 613.6,392.8 614.3,392.6 614.9,394.5 615.6,394.1 616.9,395.4 617.6,394.5 618.3,396.3 618.9,395.2 620.3,395.9 620.9,395.8 622.2,396.0 622.9,395.6 628.2,393.9 630.2,393.4 635.5,392.4 636.2,392.1 638.8,391.7 642.8,390.9 644.8,390.6 652.1,390.3 654.1,389.7 656.8,388.6 661.4,386.9 668.7,383.8 668.7,520.0"/>
<polygon fill="#009E73" points="603.0,520.0 603.0,403.4 603.7,402.4 604.3,402.0 605.0,400.6 605.7,401.2 606.3,401.2 607.0,400.6 609.0,399.7 611.0,393.5 611.6,392.5 612.3,393.5 613.0,392.8 613.6,394.2 614.3,394.4 614.9,396.8 615.6,396.9 616.3,398.2 616.9,400.2 617.6,401.0 618.3,403.0 619.6,405.3 620.3,406.9 622.2,409.1 626.2,409.7 627.6,410.2 628.2,410.6 630.2,412.3 630.9,412.7 632.2,412.8 635.5,412.1 636.8,411.6 639.5,410.1 646.1,407.8 650.1,406.2 662.7,400.0 668.7,396.4 668.7,520.0"/>
<polygon fill="#1C5AC0" points="603.0,520.0 603.0,442.4 603.7,443.1 604.3,442.9 605.0,442.2 605.7,442.8 606.3,442.1 607.0,441.3 608.3,437.0 609.0,434.3 610.3,426.9 611.6,421.5 612.3,420.7 613.0,419.1 613.6,418.9 614.3,417.9 614.9,418.6 615.6,417.9 616.3,418.3 616.9,418.1 617.6,417.2 618.3,418.2 618.9,417.7 619.6,417.9 620.3,418.9 620.9,418.9 621.6,419.0 622.2,419.4 623.6,418.9 626.2,416.0 626.9,415.7 628.2,415.7 630.9,416.3 632.2,416.3 633.5,415.9 635.5,415.0 637.5,413.5 639.5,411.7 642.8,409.6 645.5,408.3 650.1,406.3 660.1,401.3 664.1,399.2 668.7,396.4 668.7,520.0"/>
<polygon fill="#7E2F8E" points="603.0,520.0 603.0,454.7 603.7,454.4 605.0,451.6 605.7,451.2 607.0,447.6 607.6,444.3 608.3,442.3 609.0,441.8 609.6,440.7 611.0,437.7 613.0,435.7 613.6,435.3 614.3,434.5 614.9,435.3 615.6,434.9 616.3,435.5 616.9,435.5 617.6,434.9 618.3,435.5 618.9,435.4 620.3,436.8 620.9,436.5 621.6,437.0 622.2,437.3 624.2,436.6 625.6,435.5 626.2,435.1 626.9,435.0 628.2,435.2 630.2,436.1 631.5,436.4 633.5,436.2 635.5,435.7 636.8,435.2 638.8,433.6 650.1,425.9 656.8,420.9 663.4,416.7 668.7,412.9 668.7,520.0"/>
<clipPath id="cph"><polygon points="602.6,363.4 603.0,395.7 603.7,395.7 604.3,396.2 605.0,395.2 605.7,395.3 606.3,396.0 607.0,395.4 607.6,394.5 608.3,394.5 609.0,394.4 610.3,392.8 611.0,391.2 611.6,391.8 613.0,391.8 613.6,392.8 614.3,392.6 614.9,394.5 615.6,394.1 616.9,395.4 617.6,394.5 618.3,396.3 618.9,395.2 620.3,395.9 620.9,395.8 622.2,396.0 622.9,395.6 628.2,393.9 630.2,393.4 635.5,392.4 636.2,392.1 638.8,391.7 642.8,390.9 644.8,390.6 652.1,390.3 654.1,389.7 656.8,388.6 661.4,386.9 668.7,383.8 669.0,363.4"/></clipPath>
<g clip-path="url(#cph)" stroke="#000" stroke-opacity="0.065" stroke-width="1"><line x1="622.5" y1="363.4" x2="622.5" y2="520.0"/><line x1="645.5" y1="363.4" x2="645.5" y2="520.0"/><line x1="602.6" y1="441.5" x2="669.0" y2="441.5"/></g>
<g stroke="#262626" stroke-width="1" stroke-opacity="0.9"><line x1="622.5" y1="520.0" x2="622.5" y2="518.2"/><line x1="622.5" y1="363.4" x2="622.5" y2="365.2"/><line x1="645.5" y1="520.0" x2="645.5" y2="518.2"/><line x1="645.5" y1="363.4" x2="645.5" y2="365.2"/><line x1="602.6" y1="441.5" x2="604.4" y2="441.5"/><line x1="669.0" y1="441.5" x2="667.2" y2="441.5"/></g>
<rect x="602.6" y="363.4" width="66.40" height="156.60" fill="none" stroke="#262626" stroke-width="0.8"/>
<text class="tk" x="622.4" y="541.5" text-anchor="middle">2100</text>
<text class="tk" x="669.0" y="541.5" text-anchor="middle">2300</text>
<text class="tk" x="596.0" y="526.0" text-anchor="end">0</text>
<text class="tk" x="596.0" y="447.7" text-anchor="end">0.5</text>
<text class="tk" x="596.0" y="369.4" text-anchor="end">1</text>
<text class="tt" x="191.4" y="8.9" text-anchor="middle" textLength="52.2" lengthAdjust="spacingAndGlyphs">SSP1-2.6</text>
<text class="tt" x="524.5" y="8.9" text-anchor="middle" textLength="52.2" lengthAdjust="spacingAndGlyphs">SSP5-8.5</text>
<text class="st" x="79.0" y="345" text-anchor="middle">West Antarctic</text>
<text class="st" x="79.0" y="358.3" text-anchor="middle">Ice Sheet</text>
<text class="st" x="412.8" y="345" text-anchor="middle">West Antarctic</text>
<text class="st" x="412.8" y="358.3" text-anchor="middle">Ice Sheet</text>
<text class="st" x="190.6" y="345" text-anchor="middle">East Antarctic</text>
<text class="st" x="190.6" y="358.3" text-anchor="middle">Ice Sheet</text>
<text class="st" x="523.6" y="345" text-anchor="middle">East Antarctic</text>
<text class="st" x="523.6" y="358.3" text-anchor="middle">Ice Sheet</text>
<text class="st" x="301.6" y="345" text-anchor="middle">Antarctic</text>
<text class="st" x="301.6" y="358.3" text-anchor="middle">Peninsula</text>
<text class="st" x="635.0" y="345" text-anchor="middle">Antarctic</text>
<text class="st" x="635.0" y="358.3" text-anchor="middle">Peninsula</text>
<text class="pl" x="58.3" y="33.8" text-anchor="middle">a</text>
<text class="pl" x="392.2" y="33.8" text-anchor="middle">b</text>
<text class="pl" x="58.4" y="382.7" text-anchor="middle">c</text>
<text class="pl" x="170.0" y="382.7" text-anchor="middle">d</text>
<text class="pl" x="280.3" y="382.7" text-anchor="middle">e</text>
<text class="pl" x="392.2" y="382.7" text-anchor="middle">f</text>
<text class="pl" x="502.5" y="382.7" text-anchor="middle">g</text>
<text class="pl" x="614.4" y="382.7" text-anchor="middle">h</text>
<text class="al" x="191.4" y="213.9" text-anchor="middle">Year (CE)</text>
<text class="al" x="524.5" y="213.9" text-anchor="middle">Year (CE)</text>
<text class="al" x="191.4" y="562.2" text-anchor="middle">Year (CE)</text>
<text class="al" x="524.4" y="562.2" text-anchor="middle">Year (CE)</text>
<text class="yl" transform="translate(10.9,93) rotate(-90)" text-anchor="middle">Explained variance</text>
<text class="yl" transform="translate(10.9,441.9) rotate(-90)" text-anchor="middle">Explained variance</text>
<text class="lh" x="55.8" y="235">Main effects</text>
<rect x="54.4" y="240.3" width="20.5" height="12.2" fill="#7E2F8E"/><text class="lg" x="78.4" y="251.5">Ice-sheet model</text>
<rect x="54.4" y="256.9" width="20.5" height="12.2" fill="#009E73"/><text class="lg" x="78.4" y="268.1">Ocean</text>
<rect x="174.2" y="240.3" width="20.5" height="12.2" fill="#1C5AC0"/><text class="lg" x="198.2" y="251.5">Atmosphere</text>
<rect x="174.2" y="256.9" width="20.5" height="12.2" fill="#EDB120"/><text class="lg" x="198.2" y="268.1">GCM</text>
<text class="lh" x="55.8" y="289.6">Interactions</text>
<rect x="54.4" y="295.5" width="20.5" height="12.2" fill="#938DCB"/><text class="lg" x="78.4" y="306.7">Ice-sheet model/Atmosphere</text>
<rect x="54.4" y="312.1" width="20.5" height="12.2" fill="#6DAEC0"/><text class="lg" x="78.4" y="323.3">Atmosphere/Ocean</text>
<rect x="244.0" y="295.5" width="20.5" height="12.2" fill="#8BA3B6"/><text class="lg" x="268.0" y="306.7">Ice-sheet model/Ocean</text>
<rect x="244.0" y="312.1" width="20.5" height="12.2" fill="#B3B3A6"/><text class="lg" x="268.0" y="323.3">Atmosphere/GCM</text>
<rect x="403.8" y="295.5" width="20.5" height="12.2" fill="#D3A99D"/><text class="lg" x="427.8" y="306.7">Ice-sheet model/GCM</text>
<rect x="403.8" y="312.1" width="20.5" height="12.2" fill="#ABCB94"/><text class="lg" x="427.8" y="323.3">Ocean/GCM</text>
</svg>
</body></html>
